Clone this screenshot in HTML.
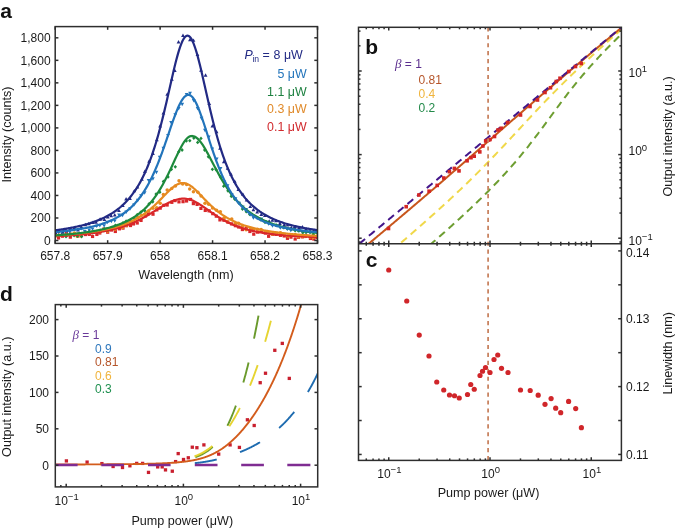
<!DOCTYPE html>
<html><head><meta charset="utf-8"><title>Figure</title>
<style>html,body{margin:0;padding:0;background:#fff;overflow:hidden;}svg{display:block;filter:blur(0.35px);}
text{font-family:"Liberation Sans", sans-serif;}</style></head>
<body><svg width="675" height="528" viewBox="0 0 675 528">
<defs>
<clipPath id="ca"><rect x="55.2" y="26.6" width="262.3" height="216.8"/></clipPath>
<clipPath id="cb"><rect x="358.5" y="27.3" width="262.9" height="216.45"/></clipPath>
<clipPath id="cd"><rect x="55.3" y="304.6" width="262.4" height="182.29999999999995"/></clipPath>
</defs>
<g clip-path="url(#ca)">
<rect x="53.47" y="234.03" width="3.2" height="3.2" fill="#d9272a"/>
<rect x="56.91" y="236.36" width="3.2" height="3.2" fill="#d9272a"/>
<rect x="60.85" y="234.59" width="3.2" height="3.2" fill="#d9272a"/>
<rect x="64.81" y="231.05" width="3.2" height="3.2" fill="#d9272a"/>
<rect x="68.73" y="235.54" width="3.2" height="3.2" fill="#d9272a"/>
<rect x="72.7" y="232.81" width="3.2" height="3.2" fill="#d9272a"/>
<rect x="76.25" y="234.48" width="3.2" height="3.2" fill="#d9272a"/>
<rect x="79.92" y="232.55" width="3.2" height="3.2" fill="#d9272a"/>
<rect x="83.94" y="232.93" width="3.2" height="3.2" fill="#d9272a"/>
<rect x="87.7" y="232.78" width="3.2" height="3.2" fill="#d9272a"/>
<rect x="90.97" y="234.86" width="3.2" height="3.2" fill="#d9272a"/>
<rect x="95.25" y="232.82" width="3.2" height="3.2" fill="#d9272a"/>
<rect x="98.2" y="231.41" width="3.2" height="3.2" fill="#d9272a"/>
<rect x="102.25" y="227.47" width="3.2" height="3.2" fill="#d9272a"/>
<rect x="106.07" y="230.59" width="3.2" height="3.2" fill="#d9272a"/>
<rect x="109.89" y="228.45" width="3.2" height="3.2" fill="#d9272a"/>
<rect x="113.74" y="229.87" width="3.2" height="3.2" fill="#d9272a"/>
<rect x="117.79" y="227.23" width="3.2" height="3.2" fill="#d9272a"/>
<rect x="121.41" y="226.51" width="3.2" height="3.2" fill="#d9272a"/>
<rect x="124.86" y="224.09" width="3.2" height="3.2" fill="#d9272a"/>
<rect x="128.87" y="223.93" width="3.2" height="3.2" fill="#d9272a"/>
<rect x="131.85" y="222.34" width="3.2" height="3.2" fill="#d9272a"/>
<rect x="135.63" y="221.42" width="3.2" height="3.2" fill="#d9272a"/>
<rect x="139.44" y="218.82" width="3.2" height="3.2" fill="#d9272a"/>
<rect x="143.9" y="214.38" width="3.2" height="3.2" fill="#d9272a"/>
<rect x="146.82" y="212.28" width="3.2" height="3.2" fill="#d9272a"/>
<rect x="151.41" y="212.61" width="3.2" height="3.2" fill="#d9272a"/>
<rect x="155.27" y="208.23" width="3.2" height="3.2" fill="#d9272a"/>
<rect x="158.62" y="206.54" width="3.2" height="3.2" fill="#d9272a"/>
<rect x="162.18" y="203.74" width="3.2" height="3.2" fill="#d9272a"/>
<rect x="165.56" y="203.41" width="3.2" height="3.2" fill="#d9272a"/>
<rect x="170.22" y="200.73" width="3.2" height="3.2" fill="#d9272a"/>
<rect x="173.47" y="198.99" width="3.2" height="3.2" fill="#d9272a"/>
<rect x="177.35" y="200.27" width="3.2" height="3.2" fill="#d9272a"/>
<rect x="181.44" y="200.06" width="3.2" height="3.2" fill="#d9272a"/>
<rect x="184.97" y="199.4" width="3.2" height="3.2" fill="#d9272a"/>
<rect x="188.97" y="197.84" width="3.2" height="3.2" fill="#d9272a"/>
<rect x="191.76" y="202" width="3.2" height="3.2" fill="#d9272a"/>
<rect x="195.51" y="202.82" width="3.2" height="3.2" fill="#d9272a"/>
<rect x="199.3" y="206.8" width="3.2" height="3.2" fill="#d9272a"/>
<rect x="203.66" y="208.84" width="3.2" height="3.2" fill="#d9272a"/>
<rect x="207.47" y="209.23" width="3.2" height="3.2" fill="#d9272a"/>
<rect x="211.16" y="212.06" width="3.2" height="3.2" fill="#d9272a"/>
<rect x="214.68" y="214.55" width="3.2" height="3.2" fill="#d9272a"/>
<rect x="218.34" y="218.29" width="3.2" height="3.2" fill="#d9272a"/>
<rect x="222.32" y="218.64" width="3.2" height="3.2" fill="#d9272a"/>
<rect x="226.24" y="220.51" width="3.2" height="3.2" fill="#d9272a"/>
<rect x="229.95" y="222.27" width="3.2" height="3.2" fill="#d9272a"/>
<rect x="233.77" y="224.11" width="3.2" height="3.2" fill="#d9272a"/>
<rect x="237.15" y="225.4" width="3.2" height="3.2" fill="#d9272a"/>
<rect x="240.78" y="227.94" width="3.2" height="3.2" fill="#d9272a"/>
<rect x="244.64" y="226.97" width="3.2" height="3.2" fill="#d9272a"/>
<rect x="248.29" y="229.89" width="3.2" height="3.2" fill="#d9272a"/>
<rect x="252.15" y="232.57" width="3.2" height="3.2" fill="#d9272a"/>
<rect x="255.98" y="230.51" width="3.2" height="3.2" fill="#d9272a"/>
<rect x="260.03" y="229.7" width="3.2" height="3.2" fill="#d9272a"/>
<rect x="263.75" y="231.45" width="3.2" height="3.2" fill="#d9272a"/>
<rect x="267.03" y="234.71" width="3.2" height="3.2" fill="#d9272a"/>
<rect x="271.23" y="232.57" width="3.2" height="3.2" fill="#d9272a"/>
<rect x="274.6" y="232.77" width="3.2" height="3.2" fill="#d9272a"/>
<rect x="278.85" y="233.74" width="3.2" height="3.2" fill="#d9272a"/>
<rect x="282.62" y="234.38" width="3.2" height="3.2" fill="#d9272a"/>
<rect x="285.86" y="236.73" width="3.2" height="3.2" fill="#d9272a"/>
<rect x="289.39" y="235.54" width="3.2" height="3.2" fill="#d9272a"/>
<rect x="293.58" y="237.44" width="3.2" height="3.2" fill="#d9272a"/>
<rect x="297.01" y="235.72" width="3.2" height="3.2" fill="#d9272a"/>
<rect x="301" y="235.27" width="3.2" height="3.2" fill="#d9272a"/>
<rect x="304.2" y="233.93" width="3.2" height="3.2" fill="#d9272a"/>
<rect x="308.83" y="236.88" width="3.2" height="3.2" fill="#d9272a"/>
<rect x="312.23" y="237.46" width="3.2" height="3.2" fill="#d9272a"/>
<rect x="315.57" y="236" width="3.2" height="3.2" fill="#d9272a"/>
<circle cx="55.22" cy="234.76" r="1.75" fill="#e68a20"/>
<circle cx="59.06" cy="234.97" r="1.75" fill="#e68a20"/>
<circle cx="63.06" cy="235.1" r="1.75" fill="#e68a20"/>
<circle cx="66.29" cy="235.48" r="1.75" fill="#e68a20"/>
<circle cx="70.51" cy="233.75" r="1.75" fill="#e68a20"/>
<circle cx="74.36" cy="232.88" r="1.75" fill="#e68a20"/>
<circle cx="77.19" cy="236.26" r="1.75" fill="#e68a20"/>
<circle cx="80.98" cy="235.94" r="1.75" fill="#e68a20"/>
<circle cx="85.2" cy="232.72" r="1.75" fill="#e68a20"/>
<circle cx="89.2" cy="232.75" r="1.75" fill="#e68a20"/>
<circle cx="92.3" cy="232.47" r="1.75" fill="#e68a20"/>
<circle cx="96.89" cy="231.6" r="1.75" fill="#e68a20"/>
<circle cx="100.17" cy="231.63" r="1.75" fill="#e68a20"/>
<circle cx="103.76" cy="229.83" r="1.75" fill="#e68a20"/>
<circle cx="107.52" cy="231.29" r="1.75" fill="#e68a20"/>
<circle cx="111.03" cy="227.88" r="1.75" fill="#e68a20"/>
<circle cx="115.03" cy="229.16" r="1.75" fill="#e68a20"/>
<circle cx="118.77" cy="226.28" r="1.75" fill="#e68a20"/>
<circle cx="122.53" cy="227.47" r="1.75" fill="#e68a20"/>
<circle cx="126.33" cy="225.49" r="1.75" fill="#e68a20"/>
<circle cx="130.35" cy="222.16" r="1.75" fill="#e68a20"/>
<circle cx="133.85" cy="220.88" r="1.75" fill="#e68a20"/>
<circle cx="137.83" cy="217.45" r="1.75" fill="#e68a20"/>
<circle cx="141.31" cy="215.39" r="1.75" fill="#e68a20"/>
<circle cx="145.01" cy="214.47" r="1.75" fill="#e68a20"/>
<circle cx="148.64" cy="211.09" r="1.75" fill="#e68a20"/>
<circle cx="152.94" cy="208.36" r="1.75" fill="#e68a20"/>
<circle cx="156.67" cy="207.71" r="1.75" fill="#e68a20"/>
<circle cx="160.18" cy="203.31" r="1.75" fill="#e68a20"/>
<circle cx="163.37" cy="194.51" r="1.75" fill="#e68a20"/>
<circle cx="167.16" cy="189.89" r="1.75" fill="#e68a20"/>
<circle cx="171.74" cy="188.52" r="1.75" fill="#e68a20"/>
<circle cx="175.45" cy="186.1" r="1.75" fill="#e68a20"/>
<circle cx="179.03" cy="180.64" r="1.75" fill="#e68a20"/>
<circle cx="182.68" cy="183.98" r="1.75" fill="#e68a20"/>
<circle cx="186.62" cy="184.57" r="1.75" fill="#e68a20"/>
<circle cx="189.7" cy="189.05" r="1.75" fill="#e68a20"/>
<circle cx="193.41" cy="191.86" r="1.75" fill="#e68a20"/>
<circle cx="197.92" cy="192.31" r="1.75" fill="#e68a20"/>
<circle cx="201.09" cy="195.89" r="1.75" fill="#e68a20"/>
<circle cx="204.98" cy="203.35" r="1.75" fill="#e68a20"/>
<circle cx="208.68" cy="204.27" r="1.75" fill="#e68a20"/>
<circle cx="212.58" cy="208.02" r="1.75" fill="#e68a20"/>
<circle cx="216.57" cy="210.37" r="1.75" fill="#e68a20"/>
<circle cx="220.33" cy="211.86" r="1.75" fill="#e68a20"/>
<circle cx="223.81" cy="218.18" r="1.75" fill="#e68a20"/>
<circle cx="227.22" cy="221.62" r="1.75" fill="#e68a20"/>
<circle cx="231.73" cy="218.97" r="1.75" fill="#e68a20"/>
<circle cx="235.28" cy="223.39" r="1.75" fill="#e68a20"/>
<circle cx="238.51" cy="223.26" r="1.75" fill="#e68a20"/>
<circle cx="242.29" cy="226.48" r="1.75" fill="#e68a20"/>
<circle cx="246.1" cy="229.86" r="1.75" fill="#e68a20"/>
<circle cx="250.41" cy="229.21" r="1.75" fill="#e68a20"/>
<circle cx="253.52" cy="229.67" r="1.75" fill="#e68a20"/>
<circle cx="257.43" cy="229.27" r="1.75" fill="#e68a20"/>
<circle cx="261.11" cy="229.56" r="1.75" fill="#e68a20"/>
<circle cx="265.53" cy="231.95" r="1.75" fill="#e68a20"/>
<circle cx="268.76" cy="232.18" r="1.75" fill="#e68a20"/>
<circle cx="272.59" cy="234.15" r="1.75" fill="#e68a20"/>
<circle cx="276.64" cy="233.3" r="1.75" fill="#e68a20"/>
<circle cx="280.49" cy="232.84" r="1.75" fill="#e68a20"/>
<circle cx="283.51" cy="234.04" r="1.75" fill="#e68a20"/>
<circle cx="287.98" cy="236.17" r="1.75" fill="#e68a20"/>
<circle cx="290.96" cy="235.4" r="1.75" fill="#e68a20"/>
<circle cx="295.22" cy="234.45" r="1.75" fill="#e68a20"/>
<circle cx="298.52" cy="237.12" r="1.75" fill="#e68a20"/>
<circle cx="302.43" cy="236.41" r="1.75" fill="#e68a20"/>
<circle cx="305.85" cy="236.53" r="1.75" fill="#e68a20"/>
<circle cx="309.86" cy="237.04" r="1.75" fill="#e68a20"/>
<circle cx="313.26" cy="237.53" r="1.75" fill="#e68a20"/>
<circle cx="317.49" cy="235.78" r="1.75" fill="#e68a20"/>
<path d="M55.66 232.82 L57.37 234.72 L55.66 236.62 L53.95 234.72 Z" fill="#1d8a3c"/>
<path d="M58.57 233.31 L60.28 235.21 L58.57 237.11 L56.86 235.21 Z" fill="#1d8a3c"/>
<path d="M62.31 232.14 L64.02 234.04 L62.31 235.94 L60.6 234.04 Z" fill="#1d8a3c"/>
<path d="M66.04 234.73 L67.75 236.63 L66.04 238.53 L64.33 236.63 Z" fill="#1d8a3c"/>
<path d="M70.46 233.3 L72.17 235.2 L70.46 237.1 L68.75 235.2 Z" fill="#1d8a3c"/>
<path d="M74.11 233.63 L75.82 235.53 L74.11 237.43 L72.4 235.53 Z" fill="#1d8a3c"/>
<path d="M77.45 234.18 L79.16 236.08 L77.45 237.98 L75.74 236.08 Z" fill="#1d8a3c"/>
<path d="M81.6 234.68 L83.31 236.58 L81.6 238.48 L79.89 236.58 Z" fill="#1d8a3c"/>
<path d="M85.17 231.56 L86.88 233.46 L85.17 235.36 L83.46 233.46 Z" fill="#1d8a3c"/>
<path d="M89.1 229.58 L90.81 231.48 L89.1 233.38 L87.39 231.48 Z" fill="#1d8a3c"/>
<path d="M92.82 230.61 L94.53 232.51 L92.82 234.41 L91.11 232.51 Z" fill="#1d8a3c"/>
<path d="M96.81 230.13 L98.52 232.03 L96.81 233.93 L95.1 232.03 Z" fill="#1d8a3c"/>
<path d="M100.6 229.31 L102.31 231.21 L100.6 233.11 L98.89 231.21 Z" fill="#1d8a3c"/>
<path d="M104.13 226.93 L105.84 228.83 L104.13 230.73 L102.42 228.83 Z" fill="#1d8a3c"/>
<path d="M107.81 228.19 L109.52 230.09 L107.81 231.99 L106.1 230.09 Z" fill="#1d8a3c"/>
<path d="M111.08 226.02 L112.79 227.92 L111.08 229.82 L109.37 227.92 Z" fill="#1d8a3c"/>
<path d="M115.41 223.39 L117.12 225.29 L115.41 227.19 L113.7 225.29 Z" fill="#1d8a3c"/>
<path d="M118.76 224.7 L120.47 226.6 L118.76 228.5 L117.05 226.6 Z" fill="#1d8a3c"/>
<path d="M123.02 220.91 L124.73 222.81 L123.02 224.71 L121.31 222.81 Z" fill="#1d8a3c"/>
<path d="M126.14 219.26 L127.85 221.16 L126.14 223.06 L124.43 221.16 Z" fill="#1d8a3c"/>
<path d="M129.98 219.31 L131.69 221.21 L129.98 223.11 L128.27 221.21 Z" fill="#1d8a3c"/>
<path d="M134.16 216.04 L135.87 217.94 L134.16 219.84 L132.45 217.94 Z" fill="#1d8a3c"/>
<path d="M137.25 212.75 L138.96 214.65 L137.25 216.55 L135.54 214.65 Z" fill="#1d8a3c"/>
<path d="M141 210.22 L142.71 212.12 L141 214.02 L139.29 212.12 Z" fill="#1d8a3c"/>
<path d="M144.82 208.83 L146.53 210.73 L144.82 212.63 L143.11 210.73 Z" fill="#1d8a3c"/>
<path d="M149.12 201.96 L150.83 203.86 L149.12 205.76 L147.41 203.86 Z" fill="#1d8a3c"/>
<path d="M152.72 199.91 L154.43 201.81 L152.72 203.71 L151.01 201.81 Z" fill="#1d8a3c"/>
<path d="M156.07 192.16 L157.78 194.06 L156.07 195.96 L154.36 194.06 Z" fill="#1d8a3c"/>
<path d="M159.82 190.28 L161.53 192.18 L159.82 194.08 L158.11 192.18 Z" fill="#1d8a3c"/>
<path d="M163.4 179.51 L165.11 181.41 L163.4 183.31 L161.69 181.41 Z" fill="#1d8a3c"/>
<path d="M168.06 175.07 L169.77 176.97 L168.06 178.87 L166.35 176.97 Z" fill="#1d8a3c"/>
<path d="M171.44 167.42 L173.15 169.32 L171.44 171.22 L169.73 169.32 Z" fill="#1d8a3c"/>
<path d="M175.3 164.94 L177.01 166.84 L175.3 168.74 L173.59 166.84 Z" fill="#1d8a3c"/>
<path d="M178.84 149.75 L180.55 151.65 L178.84 153.55 L177.13 151.65 Z" fill="#1d8a3c"/>
<path d="M182.11 148.08 L183.82 149.98 L182.11 151.88 L180.4 149.98 Z" fill="#1d8a3c"/>
<path d="M186.34 139.07 L188.05 140.97 L186.34 142.87 L184.63 140.97 Z" fill="#1d8a3c"/>
<path d="M189.79 138.82 L191.5 140.72 L189.79 142.62 L188.08 140.72 Z" fill="#1d8a3c"/>
<path d="M193.84 136.1 L195.55 138 L193.84 139.9 L192.13 138 Z" fill="#1d8a3c"/>
<path d="M197.66 140.52 L199.37 142.42 L197.66 144.32 L195.95 142.42 Z" fill="#1d8a3c"/>
<path d="M200.97 136.48 L202.68 138.38 L200.97 140.28 L199.26 138.38 Z" fill="#1d8a3c"/>
<path d="M204.64 148.16 L206.35 150.06 L204.64 151.96 L202.93 150.06 Z" fill="#1d8a3c"/>
<path d="M208.41 154.95 L210.12 156.85 L208.41 158.75 L206.7 156.85 Z" fill="#1d8a3c"/>
<path d="M212.4 167.39 L214.11 169.29 L212.4 171.19 L210.69 169.29 Z" fill="#1d8a3c"/>
<path d="M215.96 167.7 L217.67 169.6 L215.96 171.5 L214.25 169.6 Z" fill="#1d8a3c"/>
<path d="M220.5 175.08 L222.21 176.98 L220.5 178.88 L218.79 176.98 Z" fill="#1d8a3c"/>
<path d="M223.67 184.31 L225.38 186.21 L223.67 188.11 L221.96 186.21 Z" fill="#1d8a3c"/>
<path d="M227.93 188.9 L229.64 190.8 L227.93 192.7 L226.22 190.8 Z" fill="#1d8a3c"/>
<path d="M231.3 194.37 L233.01 196.27 L231.3 198.17 L229.59 196.27 Z" fill="#1d8a3c"/>
<path d="M234.64 197.1 L236.35 199 L234.64 200.9 L232.93 199 Z" fill="#1d8a3c"/>
<path d="M238.81 200.88 L240.52 202.78 L238.81 204.68 L237.1 202.78 Z" fill="#1d8a3c"/>
<path d="M242.48 207.09 L244.19 208.99 L242.48 210.89 L240.77 208.99 Z" fill="#1d8a3c"/>
<path d="M246.27 209.82 L247.98 211.72 L246.27 213.62 L244.56 211.72 Z" fill="#1d8a3c"/>
<path d="M249.73 212.52 L251.44 214.42 L249.73 216.32 L248.02 214.42 Z" fill="#1d8a3c"/>
<path d="M253.67 214 L255.38 215.9 L253.67 217.8 L251.96 215.9 Z" fill="#1d8a3c"/>
<path d="M257.64 215.73 L259.35 217.63 L257.64 219.53 L255.93 217.63 Z" fill="#1d8a3c"/>
<path d="M261 218.01 L262.71 219.91 L261 221.81 L259.29 219.91 Z" fill="#1d8a3c"/>
<path d="M265 220.39 L266.71 222.29 L265 224.19 L263.29 222.29 Z" fill="#1d8a3c"/>
<path d="M268.46 220.54 L270.17 222.44 L268.46 224.34 L266.75 222.44 Z" fill="#1d8a3c"/>
<path d="M272.06 222.64 L273.77 224.54 L272.06 226.44 L270.35 224.54 Z" fill="#1d8a3c"/>
<path d="M276.27 223.37 L277.98 225.27 L276.27 227.17 L274.56 225.27 Z" fill="#1d8a3c"/>
<path d="M279.98 224.96 L281.69 226.86 L279.98 228.76 L278.27 226.86 Z" fill="#1d8a3c"/>
<path d="M283.33 225.7 L285.04 227.6 L283.33 229.5 L281.62 227.6 Z" fill="#1d8a3c"/>
<path d="M287.05 226.7 L288.76 228.6 L287.05 230.5 L285.34 228.6 Z" fill="#1d8a3c"/>
<path d="M290.86 227.79 L292.57 229.69 L290.86 231.59 L289.15 229.69 Z" fill="#1d8a3c"/>
<path d="M295.14 228.69 L296.85 230.59 L295.14 232.49 L293.43 230.59 Z" fill="#1d8a3c"/>
<path d="M298.32 228.89 L300.03 230.79 L298.32 232.69 L296.61 230.79 Z" fill="#1d8a3c"/>
<path d="M302.8 230.82 L304.51 232.72 L302.8 234.62 L301.09 232.72 Z" fill="#1d8a3c"/>
<path d="M306.06 230.5 L307.77 232.4 L306.06 234.3 L304.35 232.4 Z" fill="#1d8a3c"/>
<path d="M310.32 230.09 L312.03 231.99 L310.32 233.89 L308.61 231.99 Z" fill="#1d8a3c"/>
<path d="M313.35 232.35 L315.06 234.25 L313.35 236.15 L311.64 234.25 Z" fill="#1d8a3c"/>
<path d="M317.59 234.83 L319.3 236.73 L317.59 238.63 L315.88 236.73 Z" fill="#1d8a3c"/>
<path d="M54.79 234.57 L52.89 231.15 L56.69 231.15 Z" fill="#2274bb"/>
<path d="M58.5 234.01 L56.6 230.59 L60.4 230.59 Z" fill="#2274bb"/>
<path d="M62.39 236.28 L60.49 232.86 L64.29 232.86 Z" fill="#2274bb"/>
<path d="M66.75 233.44 L64.85 230.02 L68.65 230.02 Z" fill="#2274bb"/>
<path d="M69.72 233.81 L67.82 230.39 L71.62 230.39 Z" fill="#2274bb"/>
<path d="M74.38 231.32 L72.48 227.9 L76.28 227.9 Z" fill="#2274bb"/>
<path d="M78.03 231.35 L76.13 227.93 L79.93 227.93 Z" fill="#2274bb"/>
<path d="M81.26 230.47 L79.36 227.05 L83.16 227.05 Z" fill="#2274bb"/>
<path d="M84.85 233.5 L82.95 230.08 L86.75 230.08 Z" fill="#2274bb"/>
<path d="M89.26 231.91 L87.36 228.49 L91.16 228.49 Z" fill="#2274bb"/>
<path d="M92.53 230.94 L90.63 227.52 L94.43 227.52 Z" fill="#2274bb"/>
<path d="M96.7 228.11 L94.8 224.69 L98.6 224.69 Z" fill="#2274bb"/>
<path d="M99.84 227.44 L97.94 224.02 L101.74 224.02 Z" fill="#2274bb"/>
<path d="M104.12 227.59 L102.22 224.17 L106.02 224.17 Z" fill="#2274bb"/>
<path d="M107.31 224.21 L105.41 220.79 L109.21 220.79 Z" fill="#2274bb"/>
<path d="M111.37 223.25 L109.47 219.83 L113.27 219.83 Z" fill="#2274bb"/>
<path d="M114.75 222.82 L112.85 219.4 L116.65 219.4 Z" fill="#2274bb"/>
<path d="M119.04 216.84 L117.14 213.42 L120.94 213.42 Z" fill="#2274bb"/>
<path d="M122.6 217.16 L120.7 213.74 L124.5 213.74 Z" fill="#2274bb"/>
<path d="M126.23 213.97 L124.33 210.55 L128.13 210.55 Z" fill="#2274bb"/>
<path d="M130.04 210.78 L128.14 207.36 L131.94 207.36 Z" fill="#2274bb"/>
<path d="M133.96 206.84 L132.06 203.42 L135.86 203.42 Z" fill="#2274bb"/>
<path d="M137.79 202.27 L135.89 198.85 L139.69 198.85 Z" fill="#2274bb"/>
<path d="M141.04 197.66 L139.14 194.24 L142.94 194.24 Z" fill="#2274bb"/>
<path d="M144.64 194.79 L142.74 191.37 L146.54 191.37 Z" fill="#2274bb"/>
<path d="M148.6 182.35 L146.7 178.93 L150.5 178.93 Z" fill="#2274bb"/>
<path d="M152.91 180.69 L151.01 177.27 L154.81 177.27 Z" fill="#2274bb"/>
<path d="M156.41 174.19 L154.51 170.77 L158.31 170.77 Z" fill="#2274bb"/>
<path d="M159.7 159.24 L157.8 155.82 L161.6 155.82 Z" fill="#2274bb"/>
<path d="M163.39 150.05 L161.49 146.63 L165.29 146.63 Z" fill="#2274bb"/>
<path d="M168.01 137.43 L166.11 134.01 L169.91 134.01 Z" fill="#2274bb"/>
<path d="M171.08 124.34 L169.18 120.92 L172.98 120.92 Z" fill="#2274bb"/>
<path d="M175.25 116.69 L173.35 113.27 L177.15 113.27 Z" fill="#2274bb"/>
<path d="M178.7 110.39 L176.8 106.97 L180.6 106.97 Z" fill="#2274bb"/>
<path d="M182.21 106.28 L180.31 102.86 L184.11 102.86 Z" fill="#2274bb"/>
<path d="M186.66 96.43 L184.76 93.01 L188.56 93.01 Z" fill="#2274bb"/>
<path d="M190.06 95.13 L188.16 91.71 L191.96 91.71 Z" fill="#2274bb"/>
<path d="M193.69 102.41 L191.79 98.99 L195.59 98.99 Z" fill="#2274bb"/>
<path d="M197.64 110.46 L195.74 107.04 L199.54 107.04 Z" fill="#2274bb"/>
<path d="M201.49 120.25 L199.59 116.83 L203.39 116.83 Z" fill="#2274bb"/>
<path d="M204.94 132.26 L203.04 128.84 L206.84 128.84 Z" fill="#2274bb"/>
<path d="M208.76 138.87 L206.86 135.45 L210.66 135.45 Z" fill="#2274bb"/>
<path d="M212.25 150.96 L210.35 147.54 L214.15 147.54 Z" fill="#2274bb"/>
<path d="M216.7 160.92 L214.8 157.5 L218.6 157.5 Z" fill="#2274bb"/>
<path d="M220.51 170.52 L218.61 167.1 L222.41 167.1 Z" fill="#2274bb"/>
<path d="M224.27 183.92 L222.37 180.5 L226.17 180.5 Z" fill="#2274bb"/>
<path d="M227.55 187.55 L225.65 184.13 L229.45 184.13 Z" fill="#2274bb"/>
<path d="M231.81 196.56 L229.91 193.14 L233.71 193.14 Z" fill="#2274bb"/>
<path d="M235.5 200.68 L233.6 197.26 L237.4 197.26 Z" fill="#2274bb"/>
<path d="M239.03 205.22 L237.13 201.8 L240.93 201.8 Z" fill="#2274bb"/>
<path d="M242.7 208.95 L240.8 205.53 L244.6 205.53 Z" fill="#2274bb"/>
<path d="M246.08 211.49 L244.18 208.07 L247.98 208.07 Z" fill="#2274bb"/>
<path d="M250.29 216.61 L248.39 213.19 L252.19 213.19 Z" fill="#2274bb"/>
<path d="M253.4 219.86 L251.5 216.44 L255.3 216.44 Z" fill="#2274bb"/>
<path d="M257.12 220.23 L255.22 216.81 L259.02 216.81 Z" fill="#2274bb"/>
<path d="M261.49 220.88 L259.59 217.46 L263.39 217.46 Z" fill="#2274bb"/>
<path d="M265.42 223.63 L263.52 220.21 L267.32 220.21 Z" fill="#2274bb"/>
<path d="M268.6 225.87 L266.7 222.45 L270.5 222.45 Z" fill="#2274bb"/>
<path d="M272.58 227.65 L270.68 224.23 L274.48 224.23 Z" fill="#2274bb"/>
<path d="M276.07 227.36 L274.17 223.94 L277.97 223.94 Z" fill="#2274bb"/>
<path d="M280.34 229.78 L278.44 226.36 L282.24 226.36 Z" fill="#2274bb"/>
<path d="M284.08 229.62 L282.18 226.2 L285.98 226.2 Z" fill="#2274bb"/>
<path d="M287.55 230.88 L285.65 227.46 L289.45 227.46 Z" fill="#2274bb"/>
<path d="M290.82 232.14 L288.92 228.72 L292.72 228.72 Z" fill="#2274bb"/>
<path d="M294.98 230.38 L293.08 226.96 L296.88 226.96 Z" fill="#2274bb"/>
<path d="M299.24 232.65 L297.34 229.23 L301.14 229.23 Z" fill="#2274bb"/>
<path d="M302.02 233.07 L300.12 229.65 L303.92 229.65 Z" fill="#2274bb"/>
<path d="M305.81 233.66 L303.91 230.24 L307.71 230.24 Z" fill="#2274bb"/>
<path d="M309.82 234.5 L307.92 231.08 L311.72 231.08 Z" fill="#2274bb"/>
<path d="M313.67 232.56 L311.77 229.14 L315.57 229.14 Z" fill="#2274bb"/>
<path d="M317.43 234.58 L315.53 231.16 L319.33 231.16 Z" fill="#2274bb"/>
<path d="M55.61 230.74 L53.71 234.16 L57.51 234.16 Z" fill="#222a84"/>
<path d="M58.58 229.41 L56.68 232.83 L60.48 232.83 Z" fill="#222a84"/>
<path d="M62.7 230.1 L60.8 233.52 L64.6 233.52 Z" fill="#222a84"/>
<path d="M66.22 228.57 L64.32 231.99 L68.12 231.99 Z" fill="#222a84"/>
<path d="M70.33 226.66 L68.43 230.08 L72.23 230.08 Z" fill="#222a84"/>
<path d="M73.9 226.94 L72 230.36 L75.8 230.36 Z" fill="#222a84"/>
<path d="M78 228.07 L76.1 231.49 L79.9 231.49 Z" fill="#222a84"/>
<path d="M81.45 225.53 L79.55 228.95 L83.35 228.95 Z" fill="#222a84"/>
<path d="M85.36 222.71 L83.46 226.13 L87.26 226.13 Z" fill="#222a84"/>
<path d="M88.83 221.83 L86.93 225.25 L90.73 225.25 Z" fill="#222a84"/>
<path d="M92.97 220.55 L91.07 223.97 L94.87 223.97 Z" fill="#222a84"/>
<path d="M96.07 220.42 L94.17 223.84 L97.97 223.84 Z" fill="#222a84"/>
<path d="M100.08 217.37 L98.18 220.79 L101.98 220.79 Z" fill="#222a84"/>
<path d="M104.34 217.56 L102.44 220.98 L106.24 220.98 Z" fill="#222a84"/>
<path d="M107.73 215.03 L105.83 218.45 L109.63 218.45 Z" fill="#222a84"/>
<path d="M111.19 213.83 L109.29 217.25 L113.09 217.25 Z" fill="#222a84"/>
<path d="M114.76 212.96 L112.86 216.38 L116.66 216.38 Z" fill="#222a84"/>
<path d="M118.92 208.67 L117.02 212.09 L120.82 212.09 Z" fill="#222a84"/>
<path d="M122.79 203.66 L120.89 207.08 L124.69 207.08 Z" fill="#222a84"/>
<path d="M126.08 197.09 L124.18 200.51 L127.98 200.51 Z" fill="#222a84"/>
<path d="M129.96 196.51 L128.06 199.93 L131.86 199.93 Z" fill="#222a84"/>
<path d="M134.33 188.94 L132.43 192.36 L136.23 192.36 Z" fill="#222a84"/>
<path d="M137.42 185.16 L135.52 188.58 L139.32 188.58 Z" fill="#222a84"/>
<path d="M141.86 177.35 L139.96 180.77 L143.76 180.77 Z" fill="#222a84"/>
<path d="M144.83 169.56 L142.93 172.98 L146.73 172.98 Z" fill="#222a84"/>
<path d="M149.12 159.21 L147.22 162.63 L151.02 162.63 Z" fill="#222a84"/>
<path d="M152.94 151.47 L151.04 154.89 L154.84 154.89 Z" fill="#222a84"/>
<path d="M156.83 137.81 L154.93 141.23 L158.73 141.23 Z" fill="#222a84"/>
<path d="M160.1 124.1 L158.2 127.52 L162 127.52 Z" fill="#222a84"/>
<path d="M163.41 111.17 L161.51 114.59 L165.31 114.59 Z" fill="#222a84"/>
<path d="M167.26 92.24 L165.36 95.66 L169.16 95.66 Z" fill="#222a84"/>
<path d="M171.85 77.41 L169.95 80.83 L173.75 80.83 Z" fill="#222a84"/>
<path d="M174.75 68.51 L172.85 71.93 L176.65 71.93 Z" fill="#222a84"/>
<path d="M178.53 40.07 L176.63 43.49 L180.43 43.49 Z" fill="#222a84"/>
<path d="M182.98 33.62 L181.08 37.04 L184.88 37.04 Z" fill="#222a84"/>
<path d="M186.38 19.09 L184.48 22.51 L188.28 22.51 Z" fill="#222a84"/>
<path d="M189.99 37.81 L188.09 41.23 L191.89 41.23 Z" fill="#222a84"/>
<path d="M193.48 38.38 L191.58 41.8 L195.38 41.8 Z" fill="#222a84"/>
<path d="M197.44 52.68 L195.54 56.1 L199.34 56.1 Z" fill="#222a84"/>
<path d="M201.03 68.34 L199.13 71.76 L202.93 71.76 Z" fill="#222a84"/>
<path d="M205.57 73.23 L203.67 76.65 L207.47 76.65 Z" fill="#222a84"/>
<path d="M209.28 101.67 L207.38 105.09 L211.18 105.09 Z" fill="#222a84"/>
<path d="M212.39 123.98 L210.49 127.4 L214.29 127.4 Z" fill="#222a84"/>
<path d="M216.58 129.8 L214.68 133.22 L218.48 133.22 Z" fill="#222a84"/>
<path d="M220.04 146.33 L218.14 149.75 L221.94 149.75 Z" fill="#222a84"/>
<path d="M223.86 159.71 L221.96 163.13 L225.76 163.13 Z" fill="#222a84"/>
<path d="M227.66 166.45 L225.76 169.87 L229.56 169.87 Z" fill="#222a84"/>
<path d="M231 172.37 L229.1 175.79 L232.9 175.79 Z" fill="#222a84"/>
<path d="M234.73 179.4 L232.83 182.82 L236.63 182.82 Z" fill="#222a84"/>
<path d="M238.36 187.66 L236.46 191.08 L240.26 191.08 Z" fill="#222a84"/>
<path d="M242.93 192.41 L241.03 195.83 L244.83 195.83 Z" fill="#222a84"/>
<path d="M246.67 197.98 L244.77 201.4 L248.57 201.4 Z" fill="#222a84"/>
<path d="M250.24 204.65 L248.34 208.07 L252.14 208.07 Z" fill="#222a84"/>
<path d="M253.39 207.72 L251.49 211.14 L255.29 211.14 Z" fill="#222a84"/>
<path d="M257.19 210 L255.29 213.42 L259.09 213.42 Z" fill="#222a84"/>
<path d="M261.3 212.56 L259.4 215.98 L263.2 215.98 Z" fill="#222a84"/>
<path d="M264.9 213.47 L263 216.89 L266.8 216.89 Z" fill="#222a84"/>
<path d="M269.22 219.22 L267.32 222.64 L271.12 222.64 Z" fill="#222a84"/>
<path d="M272.32 218.38 L270.42 221.8 L274.22 221.8 Z" fill="#222a84"/>
<path d="M275.9 218.82 L274 222.24 L277.8 222.24 Z" fill="#222a84"/>
<path d="M279.87 221.52 L277.97 224.94 L281.77 224.94 Z" fill="#222a84"/>
<path d="M284.24 222.86 L282.34 226.28 L286.14 226.28 Z" fill="#222a84"/>
<path d="M287.55 223.18 L285.65 226.6 L289.45 226.6 Z" fill="#222a84"/>
<path d="M291.3 225.44 L289.4 228.86 L293.2 228.86 Z" fill="#222a84"/>
<path d="M294.59 224.98 L292.69 228.4 L296.49 228.4 Z" fill="#222a84"/>
<path d="M299.04 225.54 L297.14 228.96 L300.94 228.96 Z" fill="#222a84"/>
<path d="M302.4 225.08 L300.5 228.5 L304.3 228.5 Z" fill="#222a84"/>
<path d="M305.97 227.06 L304.07 230.48 L307.87 230.48 Z" fill="#222a84"/>
<path d="M309.94 229.3 L308.04 232.72 L311.84 232.72 Z" fill="#222a84"/>
<path d="M313.61 229.46 L311.71 232.88 L315.51 232.88 Z" fill="#222a84"/>
<path d="M317.4 227.87 L315.5 231.29 L319.3 231.29 Z" fill="#222a84"/>
<path d="M49.95 236.49 L50.86 236.45 L51.77 236.41 L52.68 236.37 L53.59 236.33 L54.5 236.28 L55.41 236.24 L56.32 236.19 L57.23 236.14 L58.14 236.09 L59.05 236.04 L59.96 235.99 L60.87 235.94 L61.77 235.89 L62.68 235.83 L63.59 235.78 L64.5 235.72 L65.41 235.66 L66.32 235.6 L67.23 235.54 L68.14 235.48 L69.05 235.42 L69.96 235.35 L70.87 235.28 L71.78 235.22 L72.69 235.15 L73.6 235.07 L74.51 235 L75.41 234.93 L76.32 234.85 L77.23 234.77 L78.14 234.69 L79.05 234.6 L79.96 234.52 L80.87 234.43 L81.78 234.34 L82.69 234.25 L83.6 234.16 L84.51 234.06 L85.42 233.96 L86.33 233.86 L87.24 233.76 L88.14 233.65 L89.05 233.54 L89.96 233.43 L90.87 233.31 L91.78 233.19 L92.69 233.07 L93.6 232.95 L94.51 232.82 L95.42 232.69 L96.33 232.55 L97.24 232.41 L98.15 232.27 L99.06 232.13 L99.97 231.98 L100.88 231.82 L101.78 231.66 L102.69 231.5 L103.6 231.34 L104.51 231.16 L105.42 230.99 L106.33 230.81 L107.24 230.62 L108.15 230.43 L109.06 230.24 L109.97 230.04 L110.88 229.83 L111.79 229.62 L112.7 229.4 L113.61 229.18 L114.51 228.95 L115.42 228.71 L116.33 228.47 L117.24 228.22 L118.15 227.97 L119.06 227.7 L119.97 227.43 L120.88 227.16 L121.79 226.87 L122.7 226.58 L123.61 226.28 L124.52 225.98 L125.43 225.66 L126.34 225.34 L127.25 225.01 L128.15 224.67 L129.06 224.32 L129.97 223.97 L130.88 223.6 L131.79 223.23 L132.7 222.84 L133.61 222.45 L134.52 222.05 L135.43 221.64 L136.34 221.22 L137.25 220.79 L138.16 220.35 L139.07 219.91 L139.98 219.45 L140.88 218.99 L141.79 218.51 L142.7 218.03 L143.61 217.54 L144.52 217.04 L145.43 216.53 L146.34 216.01 L147.25 215.49 L148.16 214.96 L149.07 214.42 L149.98 213.88 L150.89 213.33 L151.8 212.78 L152.71 212.22 L153.61 211.66 L154.52 211.1 L155.43 210.53 L156.34 209.96 L157.25 209.4 L158.16 208.83 L159.07 208.27 L159.98 207.7 L160.89 207.15 L161.8 206.6 L162.71 206.05 L163.62 205.52 L164.53 204.99 L165.44 204.47 L166.35 203.97 L167.25 203.48 L168.16 203.01 L169.07 202.55 L169.98 202.12 L170.89 201.7 L171.8 201.3 L172.71 200.93 L173.62 200.58 L174.53 200.26 L175.44 199.96 L176.35 199.69 L177.26 199.45 L178.17 199.24 L179.08 199.06 L179.98 198.91 L180.89 198.79 L181.8 198.71 L182.71 198.66 L183.62 198.64 L184.53 198.66 L185.44 198.72 L186.35 198.82 L187.26 198.97 L188.17 199.15 L189.08 199.37 L189.99 199.63 L190.9 199.93 L191.81 200.27 L192.72 200.63 L193.62 201.03 L194.53 201.46 L195.44 201.92 L196.35 202.41 L197.26 202.91 L198.17 203.44 L199.08 203.99 L199.99 204.56 L200.9 205.14 L201.81 205.74 L202.72 206.35 L203.63 206.97 L204.54 207.59 L205.45 208.22 L206.35 208.86 L207.26 209.5 L208.17 210.14 L209.08 210.77 L209.99 211.41 L210.9 212.04 L211.81 212.67 L212.72 213.3 L213.63 213.91 L214.54 214.52 L215.45 215.13 L216.36 215.72 L217.27 216.31 L218.18 216.88 L219.09 217.45 L219.99 218 L220.9 218.54 L221.81 219.08 L222.72 219.6 L223.63 220.11 L224.54 220.61 L225.45 221.09 L226.36 221.57 L227.27 222.03 L228.18 222.48 L229.09 222.92 L230 223.35 L230.91 223.77 L231.82 224.17 L232.72 224.57 L233.63 224.95 L234.54 225.33 L235.45 225.69 L236.36 226.04 L237.27 226.39 L238.18 226.72 L239.09 227.04 L240 227.36 L240.91 227.66 L241.82 227.96 L242.73 228.24 L243.64 228.52 L244.55 228.79 L245.45 229.06 L246.36 229.31 L247.27 229.56 L248.18 229.8 L249.09 230.03 L250 230.26 L250.91 230.48 L251.82 230.69 L252.73 230.9 L253.64 231.1 L254.55 231.29 L255.46 231.48 L256.37 231.66 L257.28 231.84 L258.19 232.01 L259.09 232.18 L260 232.34 L260.91 232.5 L261.82 232.65 L262.73 232.8 L263.64 232.94 L264.55 233.09 L265.46 233.22 L266.37 233.35 L267.28 233.48 L268.19 233.61 L269.1 233.73 L270.01 233.85 L270.92 233.96 L271.82 234.07 L272.73 234.18 L273.64 234.29 L274.55 234.39 L275.46 234.49 L276.37 234.58 L277.28 234.68 L278.19 234.77 L279.1 234.86 L280.01 234.94 L280.92 235.03 L281.83 235.11 L282.74 235.19 L283.65 235.27 L284.56 235.34 L285.46 235.42 L286.37 235.49 L287.28 235.56 L288.19 235.63 L289.1 235.69 L290.01 235.76 L290.92 235.82 L291.83 235.88 L292.74 235.94 L293.65 236 L294.56 236.06 L295.47 236.11 L296.38 236.17 L297.29 236.22 L298.19 236.27 L299.1 236.32 L300.01 236.37 L300.92 236.42 L301.83 236.46 L302.74 236.51 L303.65 236.55 L304.56 236.6 L305.47 236.64 L306.38 236.68 L307.29 236.72 L308.2 236.76 L309.11 236.8 L310.02 236.84 L310.93 236.87 L311.83 236.91 L312.74 236.95 L313.65 236.98 L314.56 237.01 L315.47 237.05 L316.38 237.08 L317.29 237.11 L318.2 237.14 L319.11 237.17 L320.02 237.2 L320.93 237.23 L321.84 237.26 L322.75 237.28" fill="none" stroke="#d9272a" stroke-width="2.2" stroke-linejoin="round"/>
<path d="M49.95 235.79 L50.86 235.74 L51.77 235.68 L52.68 235.63 L53.59 235.57 L54.5 235.51 L55.41 235.46 L56.32 235.4 L57.23 235.34 L58.14 235.27 L59.05 235.21 L59.96 235.15 L60.87 235.08 L61.77 235.02 L62.68 234.95 L63.59 234.88 L64.5 234.81 L65.41 234.74 L66.32 234.67 L67.23 234.59 L68.14 234.52 L69.05 234.44 L69.96 234.36 L70.87 234.28 L71.78 234.2 L72.69 234.12 L73.6 234.03 L74.51 233.94 L75.41 233.86 L76.32 233.76 L77.23 233.67 L78.14 233.58 L79.05 233.48 L79.96 233.38 L80.87 233.28 L81.78 233.18 L82.69 233.08 L83.6 232.97 L84.51 232.86 L85.42 232.75 L86.33 232.63 L87.24 232.52 L88.14 232.4 L89.05 232.28 L89.96 232.15 L90.87 232.02 L91.78 231.89 L92.69 231.76 L93.6 231.62 L94.51 231.48 L95.42 231.34 L96.33 231.19 L97.24 231.04 L98.15 230.89 L99.06 230.73 L99.97 230.57 L100.88 230.4 L101.78 230.23 L102.69 230.06 L103.6 229.88 L104.51 229.69 L105.42 229.51 L106.33 229.31 L107.24 229.12 L108.15 228.91 L109.06 228.7 L109.97 228.49 L110.88 228.27 L111.79 228.05 L112.7 227.81 L113.61 227.58 L114.51 227.33 L115.42 227.08 L116.33 226.82 L117.24 226.56 L118.15 226.28 L119.06 226 L119.97 225.72 L120.88 225.42 L121.79 225.11 L122.7 224.8 L123.61 224.48 L124.52 224.14 L125.43 223.8 L126.34 223.45 L127.25 223.08 L128.15 222.71 L129.06 222.33 L129.97 221.93 L130.88 221.52 L131.79 221.1 L132.7 220.67 L133.61 220.22 L134.52 219.76 L135.43 219.28 L136.34 218.8 L137.25 218.29 L138.16 217.77 L139.07 217.24 L139.98 216.69 L140.88 216.12 L141.79 215.54 L142.7 214.94 L143.61 214.32 L144.52 213.69 L145.43 213.03 L146.34 212.36 L147.25 211.67 L148.16 210.96 L149.07 210.23 L149.98 209.48 L150.89 208.71 L151.8 207.93 L152.71 207.12 L153.61 206.3 L154.52 205.46 L155.43 204.6 L156.34 203.72 L157.25 202.83 L158.16 201.93 L159.07 201.01 L159.98 200.08 L160.89 199.14 L161.8 198.2 L162.71 197.25 L163.62 196.3 L164.53 195.34 L165.44 194.4 L166.35 193.46 L167.25 192.53 L168.16 191.62 L169.07 190.73 L169.98 189.86 L170.89 189.02 L171.8 188.22 L172.71 187.46 L173.62 186.74 L174.53 186.07 L175.44 185.46 L176.35 184.9 L177.26 184.41 L178.17 183.99 L179.08 183.63 L179.98 183.36 L180.89 183.16 L181.8 183.03 L182.71 182.99 L183.62 183.03 L184.53 183.15 L185.44 183.34 L186.35 183.62 L187.26 183.97 L188.17 184.39 L189.08 184.88 L189.99 185.44 L190.9 186.06 L191.81 186.73 L192.72 187.45 L193.62 188.22 L194.53 189.02 L195.44 189.87 L196.35 190.74 L197.26 191.63 L198.17 192.55 L199.08 193.48 L199.99 194.43 L200.9 195.38 L201.81 196.34 L202.72 197.3 L203.63 198.25 L204.54 199.2 L205.45 200.14 L206.35 201.08 L207.26 202 L208.17 202.91 L209.08 203.8 L209.99 204.68 L210.9 205.54 L211.81 206.38 L212.72 207.21 L213.63 208.02 L214.54 208.8 L215.45 209.57 L216.36 210.32 L217.27 211.05 L218.18 211.77 L219.09 212.46 L219.99 213.13 L220.9 213.79 L221.81 214.42 L222.72 215.04 L223.63 215.64 L224.54 216.23 L225.45 216.79 L226.36 217.34 L227.27 217.88 L228.18 218.39 L229.09 218.9 L230 219.39 L230.91 219.86 L231.82 220.32 L232.72 220.76 L233.63 221.2 L234.54 221.62 L235.45 222.03 L236.36 222.42 L237.27 222.81 L238.18 223.18 L239.09 223.54 L240 223.89 L240.91 224.23 L241.82 224.57 L242.73 224.89 L243.64 225.2 L244.55 225.51 L245.45 225.8 L246.36 226.09 L247.27 226.37 L248.18 226.64 L249.09 226.91 L250 227.16 L250.91 227.41 L251.82 227.66 L252.73 227.89 L253.64 228.13 L254.55 228.35 L255.46 228.57 L256.37 228.78 L257.28 228.99 L258.19 229.19 L259.09 229.39 L260 229.58 L260.91 229.77 L261.82 229.95 L262.73 230.13 L263.64 230.3 L264.55 230.47 L265.46 230.63 L266.37 230.8 L267.28 230.95 L268.19 231.11 L269.1 231.26 L270.01 231.4 L270.92 231.54 L271.82 231.68 L272.73 231.82 L273.64 231.95 L274.55 232.08 L275.46 232.21 L276.37 232.33 L277.28 232.46 L278.19 232.57 L279.1 232.69 L280.01 232.8 L280.92 232.92 L281.83 233.02 L282.74 233.13 L283.65 233.23 L284.56 233.34 L285.46 233.44 L286.37 233.53 L287.28 233.63 L288.19 233.72 L289.1 233.82 L290.01 233.9 L290.92 233.99 L291.83 234.08 L292.74 234.16 L293.65 234.25 L294.56 234.33 L295.47 234.41 L296.38 234.49 L297.29 234.56 L298.19 234.64 L299.1 234.71 L300.01 234.78 L300.92 234.85 L301.83 234.92 L302.74 234.99 L303.65 235.06 L304.56 235.13 L305.47 235.19 L306.38 235.25 L307.29 235.32 L308.2 235.38 L309.11 235.44 L310.02 235.5 L310.93 235.55 L311.83 235.61 L312.74 235.67 L313.65 235.72 L314.56 235.78 L315.47 235.83 L316.38 235.88 L317.29 235.93 L318.2 235.98 L319.11 236.03 L320.02 236.08 L320.93 236.13 L321.84 236.18 L322.75 236.22" fill="none" stroke="#e68a20" stroke-width="2.2" stroke-linejoin="round"/>
<path d="M49.95 235.77 L50.86 235.71 L51.77 235.65 L52.68 235.59 L53.59 235.53 L54.5 235.47 L55.41 235.4 L56.32 235.34 L57.23 235.27 L58.14 235.21 L59.05 235.14 L59.96 235.07 L60.87 235 L61.77 234.92 L62.68 234.85 L63.59 234.77 L64.5 234.7 L65.41 234.62 L66.32 234.54 L67.23 234.45 L68.14 234.37 L69.05 234.29 L69.96 234.2 L70.87 234.11 L71.78 234.02 L72.69 233.92 L73.6 233.83 L74.51 233.73 L75.41 233.63 L76.32 233.53 L77.23 233.43 L78.14 233.32 L79.05 233.21 L79.96 233.1 L80.87 232.99 L81.78 232.87 L82.69 232.76 L83.6 232.64 L84.51 232.51 L85.42 232.38 L86.33 232.25 L87.24 232.12 L88.14 231.99 L89.05 231.85 L89.96 231.7 L90.87 231.56 L91.78 231.41 L92.69 231.25 L93.6 231.1 L94.51 230.94 L95.42 230.77 L96.33 230.6 L97.24 230.43 L98.15 230.25 L99.06 230.07 L99.97 229.88 L100.88 229.69 L101.78 229.49 L102.69 229.29 L103.6 229.08 L104.51 228.86 L105.42 228.64 L106.33 228.42 L107.24 228.19 L108.15 227.95 L109.06 227.7 L109.97 227.45 L110.88 227.19 L111.79 226.92 L112.7 226.65 L113.61 226.37 L114.51 226.08 L115.42 225.78 L116.33 225.47 L117.24 225.15 L118.15 224.83 L119.06 224.49 L119.97 224.14 L120.88 223.78 L121.79 223.42 L122.7 223.04 L123.61 222.64 L124.52 222.24 L125.43 221.82 L126.34 221.39 L127.25 220.95 L128.15 220.49 L129.06 220.01 L129.97 219.52 L130.88 219.02 L131.79 218.5 L132.7 217.96 L133.61 217.4 L134.52 216.82 L135.43 216.23 L136.34 215.61 L137.25 214.97 L138.16 214.31 L139.07 213.63 L139.98 212.92 L140.88 212.19 L141.79 211.44 L142.7 210.65 L143.61 209.84 L144.52 209.01 L145.43 208.14 L146.34 207.24 L147.25 206.31 L148.16 205.35 L149.07 204.35 L149.98 203.32 L150.89 202.25 L151.8 201.15 L152.71 200.01 L153.61 198.82 L154.52 197.6 L155.43 196.34 L156.34 195.04 L157.25 193.69 L158.16 192.3 L159.07 190.87 L159.98 189.39 L160.89 187.87 L161.8 186.3 L162.71 184.69 L163.62 183.04 L164.53 181.34 L165.44 179.6 L166.35 177.82 L167.25 176 L168.16 174.15 L169.07 172.27 L169.98 170.35 L170.89 168.42 L171.8 166.46 L172.71 164.49 L173.62 162.51 L174.53 160.53 L175.44 158.56 L176.35 156.6 L177.26 154.67 L178.17 152.77 L179.08 150.92 L179.98 149.12 L180.89 147.39 L181.8 145.74 L182.71 144.19 L183.62 142.73 L184.53 141.39 L185.44 140.18 L186.35 139.1 L187.26 138.17 L188.17 137.4 L189.08 136.78 L189.99 136.34 L190.9 136.07 L191.81 135.97 L192.72 136.03 L193.62 136.23 L194.53 136.56 L195.44 137.03 L196.35 137.62 L197.26 138.35 L198.17 139.18 L199.08 140.14 L199.99 141.2 L200.9 142.36 L201.81 143.61 L202.72 144.94 L203.63 146.35 L204.54 147.83 L205.45 149.37 L206.35 150.96 L207.26 152.59 L208.17 154.26 L209.08 155.96 L209.99 157.68 L210.9 159.42 L211.81 161.16 L212.72 162.91 L213.63 164.66 L214.54 166.4 L215.45 168.13 L216.36 169.84 L217.27 171.54 L218.18 173.21 L219.09 174.86 L219.99 176.49 L220.9 178.09 L221.81 179.65 L222.72 181.19 L223.63 182.69 L224.54 184.16 L225.45 185.6 L226.36 187 L227.27 188.37 L228.18 189.7 L229.09 191 L230 192.26 L230.91 193.49 L231.82 194.69 L232.72 195.85 L233.63 196.98 L234.54 198.08 L235.45 199.15 L236.36 200.18 L237.27 201.19 L238.18 202.16 L239.09 203.11 L240 204.03 L240.91 204.92 L241.82 205.78 L242.73 206.62 L243.64 207.43 L244.55 208.22 L245.45 208.99 L246.36 209.73 L247.27 210.45 L248.18 211.15 L249.09 211.83 L250 212.48 L250.91 213.12 L251.82 213.74 L252.73 214.34 L253.64 214.92 L254.55 215.49 L255.46 216.04 L256.37 216.57 L257.28 217.09 L258.19 217.59 L259.09 218.08 L260 218.55 L260.91 219.01 L261.82 219.46 L262.73 219.89 L263.64 220.32 L264.55 220.73 L265.46 221.13 L266.37 221.51 L267.28 221.89 L268.19 222.26 L269.1 222.62 L270.01 222.96 L270.92 223.3 L271.82 223.63 L272.73 223.95 L273.64 224.26 L274.55 224.57 L275.46 224.86 L276.37 225.15 L277.28 225.43 L278.19 225.7 L279.1 225.97 L280.01 226.23 L280.92 226.48 L281.83 226.73 L282.74 226.97 L283.65 227.21 L284.56 227.43 L285.46 227.66 L286.37 227.88 L287.28 228.09 L288.19 228.3 L289.1 228.5 L290.01 228.7 L290.92 228.89 L291.83 229.08 L292.74 229.26 L293.65 229.44 L294.56 229.62 L295.47 229.79 L296.38 229.96 L297.29 230.12 L298.19 230.28 L299.1 230.44 L300.01 230.59 L300.92 230.74 L301.83 230.89 L302.74 231.03 L303.65 231.17 L304.56 231.31 L305.47 231.44 L306.38 231.58 L307.29 231.7 L308.2 231.83 L309.11 231.95 L310.02 232.07 L310.93 232.19 L311.83 232.31 L312.74 232.42 L313.65 232.53 L314.56 232.64 L315.47 232.75 L316.38 232.86 L317.29 232.96 L318.2 233.06 L319.11 233.16 L320.02 233.25 L320.93 233.35 L321.84 233.44 L322.75 233.53" fill="none" stroke="#1d8a3c" stroke-width="2.2" stroke-linejoin="round"/>
<path d="M49.95 232.36 L50.86 232.29 L51.77 232.22 L52.68 232.15 L53.59 232.07 L54.5 232 L55.41 231.92 L56.32 231.85 L57.23 231.77 L58.14 231.69 L59.05 231.6 L59.96 231.52 L60.87 231.43 L61.77 231.34 L62.68 231.25 L63.59 231.16 L64.5 231.06 L65.41 230.96 L66.32 230.86 L67.23 230.76 L68.14 230.66 L69.05 230.55 L69.96 230.44 L70.87 230.32 L71.78 230.21 L72.69 230.09 L73.6 229.97 L74.51 229.84 L75.41 229.71 L76.32 229.58 L77.23 229.45 L78.14 229.31 L79.05 229.16 L79.96 229.02 L80.87 228.87 L81.78 228.71 L82.69 228.56 L83.6 228.39 L84.51 228.23 L85.42 228.05 L86.33 227.88 L87.24 227.7 L88.14 227.51 L89.05 227.32 L89.96 227.12 L90.87 226.92 L91.78 226.71 L92.69 226.49 L93.6 226.27 L94.51 226.04 L95.42 225.81 L96.33 225.57 L97.24 225.32 L98.15 225.06 L99.06 224.8 L99.97 224.53 L100.88 224.25 L101.78 223.96 L102.69 223.66 L103.6 223.36 L104.51 223.04 L105.42 222.71 L106.33 222.38 L107.24 222.03 L108.15 221.67 L109.06 221.3 L109.97 220.92 L110.88 220.52 L111.79 220.12 L112.7 219.69 L113.61 219.26 L114.51 218.81 L115.42 218.35 L116.33 217.86 L117.24 217.37 L118.15 216.85 L119.06 216.32 L119.97 215.77 L120.88 215.21 L121.79 214.62 L122.7 214.01 L123.61 213.38 L124.52 212.73 L125.43 212.05 L126.34 211.35 L127.25 210.63 L128.15 209.88 L129.06 209.1 L129.97 208.29 L130.88 207.46 L131.79 206.6 L132.7 205.7 L133.61 204.77 L134.52 203.81 L135.43 202.82 L136.34 201.78 L137.25 200.71 L138.16 199.6 L139.07 198.46 L139.98 197.27 L140.88 196.03 L141.79 194.75 L142.7 193.43 L143.61 192.06 L144.52 190.64 L145.43 189.18 L146.34 187.66 L147.25 186.08 L148.16 184.46 L149.07 182.78 L149.98 181.04 L150.89 179.25 L151.8 177.4 L152.71 175.5 L153.61 173.53 L154.52 171.5 L155.43 169.42 L156.34 167.28 L157.25 165.08 L158.16 162.82 L159.07 160.51 L159.98 158.15 L160.89 155.73 L161.8 153.26 L162.71 150.75 L163.62 148.2 L164.53 145.61 L165.44 142.98 L166.35 140.33 L167.25 137.67 L168.16 134.99 L169.07 132.3 L169.98 129.62 L170.89 126.96 L171.8 124.32 L172.71 121.72 L173.62 119.16 L174.53 116.66 L175.44 114.24 L176.35 111.9 L177.26 109.66 L178.17 107.53 L179.08 105.53 L179.98 103.66 L180.89 101.95 L181.8 100.4 L182.71 99.02 L183.62 97.82 L184.53 96.82 L185.44 96.02 L186.35 95.42 L187.26 95.03 L188.17 94.86 L189.08 94.92 L189.99 95.21 L190.9 95.74 L191.81 96.5 L192.72 97.49 L193.62 98.7 L194.53 100.12 L195.44 101.74 L196.35 103.54 L197.26 105.5 L198.17 107.63 L199.08 109.89 L199.99 112.28 L200.9 114.77 L201.81 117.36 L202.72 120.02 L203.63 122.75 L204.54 125.52 L205.45 128.33 L206.35 131.16 L207.26 134 L208.17 136.84 L209.08 139.67 L209.99 142.48 L210.9 145.26 L211.81 148.01 L212.72 150.71 L213.63 153.37 L214.54 155.98 L215.45 158.53 L216.36 161.03 L217.27 163.46 L218.18 165.83 L219.09 168.14 L219.99 170.38 L220.9 172.55 L221.81 174.66 L222.72 176.71 L223.63 178.69 L224.54 180.6 L225.45 182.45 L226.36 184.24 L227.27 185.96 L228.18 187.63 L229.09 189.24 L230 190.79 L230.91 192.28 L231.82 193.72 L232.72 195.11 L233.63 196.45 L234.54 197.74 L235.45 198.98 L236.36 200.18 L237.27 201.33 L238.18 202.44 L239.09 203.5 L240 204.53 L240.91 205.52 L241.82 206.48 L242.73 207.39 L243.64 208.28 L244.55 209.13 L245.45 209.95 L246.36 210.74 L247.27 211.5 L248.18 212.24 L249.09 212.95 L250 213.63 L250.91 214.29 L251.82 214.92 L252.73 215.53 L253.64 216.12 L254.55 216.69 L255.46 217.24 L256.37 217.77 L257.28 218.28 L258.19 218.77 L259.09 219.25 L260 219.71 L260.91 220.16 L261.82 220.59 L262.73 221 L263.64 221.4 L264.55 221.79 L265.46 222.17 L266.37 222.53 L267.28 222.88 L268.19 223.22 L269.1 223.55 L270.01 223.87 L270.92 224.18 L271.82 224.47 L272.73 224.76 L273.64 225.04 L274.55 225.31 L275.46 225.58 L276.37 225.83 L277.28 226.08 L278.19 226.32 L279.1 226.55 L280.01 226.78 L280.92 227 L281.83 227.21 L282.74 227.41 L283.65 227.61 L284.56 227.81 L285.46 228 L286.37 228.18 L287.28 228.36 L288.19 228.53 L289.1 228.7 L290.01 228.86 L290.92 229.02 L291.83 229.18 L292.74 229.33 L293.65 229.47 L294.56 229.62 L295.47 229.76 L296.38 229.89 L297.29 230.02 L298.19 230.15 L299.1 230.27 L300.01 230.39 L300.92 230.51 L301.83 230.63 L302.74 230.74 L303.65 230.85 L304.56 230.96 L305.47 231.06 L306.38 231.16 L307.29 231.26 L308.2 231.36 L309.11 231.45 L310.02 231.54 L310.93 231.63 L311.83 231.72 L312.74 231.8 L313.65 231.89 L314.56 231.97 L315.47 232.05 L316.38 232.12 L317.29 232.2 L318.2 232.27 L319.11 232.35 L320.02 232.42 L320.93 232.48 L321.84 232.55 L322.75 232.62" fill="none" stroke="#2274bb" stroke-width="2.2" stroke-linejoin="round"/>
<path d="M49.95 230.95 L50.86 230.85 L51.77 230.74 L52.68 230.63 L53.59 230.52 L54.5 230.4 L55.41 230.28 L56.32 230.16 L57.23 230.04 L58.14 229.92 L59.05 229.79 L59.96 229.66 L60.87 229.53 L61.77 229.39 L62.68 229.25 L63.59 229.11 L64.5 228.96 L65.41 228.81 L66.32 228.66 L67.23 228.51 L68.14 228.35 L69.05 228.19 L69.96 228.02 L70.87 227.85 L71.78 227.68 L72.69 227.5 L73.6 227.32 L74.51 227.13 L75.41 226.94 L76.32 226.75 L77.23 226.55 L78.14 226.35 L79.05 226.14 L79.96 225.92 L80.87 225.7 L81.78 225.48 L82.69 225.25 L83.6 225.01 L84.51 224.77 L85.42 224.52 L86.33 224.26 L87.24 224 L88.14 223.73 L89.05 223.46 L89.96 223.18 L90.87 222.89 L91.78 222.59 L92.69 222.28 L93.6 221.97 L94.51 221.64 L95.42 221.31 L96.33 220.97 L97.24 220.62 L98.15 220.26 L99.06 219.89 L99.97 219.51 L100.88 219.12 L101.78 218.72 L102.69 218.3 L103.6 217.87 L104.51 217.43 L105.42 216.98 L106.33 216.51 L107.24 216.03 L108.15 215.54 L109.06 215.03 L109.97 214.5 L110.88 213.96 L111.79 213.4 L112.7 212.83 L113.61 212.23 L114.51 211.62 L115.42 210.99 L116.33 210.33 L117.24 209.66 L118.15 208.96 L119.06 208.24 L119.97 207.49 L120.88 206.73 L121.79 205.93 L122.7 205.11 L123.61 204.26 L124.52 203.38 L125.43 202.47 L126.34 201.53 L127.25 200.56 L128.15 199.55 L129.06 198.5 L129.97 197.42 L130.88 196.3 L131.79 195.14 L132.7 193.94 L133.61 192.7 L134.52 191.41 L135.43 190.07 L136.34 188.69 L137.25 187.25 L138.16 185.76 L139.07 184.21 L139.98 182.61 L140.88 180.95 L141.79 179.23 L142.7 177.44 L143.61 175.59 L144.52 173.67 L145.43 171.68 L146.34 169.62 L147.25 167.48 L148.16 165.26 L149.07 162.96 L149.98 160.58 L150.89 158.12 L151.8 155.57 L152.71 152.93 L153.61 150.2 L154.52 147.38 L155.43 144.47 L156.34 141.46 L157.25 138.37 L158.16 135.18 L159.07 131.89 L159.98 128.52 L160.89 125.06 L161.8 121.51 L162.71 117.88 L163.62 114.17 L164.53 110.38 L165.44 106.54 L166.35 102.64 L167.25 98.69 L168.16 94.7 L169.07 90.69 L169.98 86.68 L170.89 82.66 L171.8 78.68 L172.71 74.73 L173.62 70.85 L174.53 67.05 L175.44 63.36 L176.35 59.8 L177.26 56.4 L178.17 53.17 L179.08 50.15 L179.98 47.35 L180.89 44.81 L181.8 42.54 L182.71 40.57 L183.62 38.91 L184.53 37.58 L185.44 36.58 L186.35 35.95 L187.26 35.67 L188.17 35.75 L189.08 36.19 L189.99 37 L190.9 38.16 L191.81 39.66 L192.72 41.48 L193.62 43.62 L194.53 46.04 L195.44 48.73 L196.35 51.66 L197.26 54.81 L198.17 58.16 L199.08 61.67 L199.99 65.33 L200.9 69.1 L201.81 72.98 L202.72 76.92 L203.63 80.92 L204.54 84.95 L205.45 88.99 L206.35 93.04 L207.26 97.06 L208.17 101.05 L209.08 105 L209.99 108.9 L210.9 112.73 L211.81 116.49 L212.72 120.18 L213.63 123.78 L214.54 127.3 L215.45 130.73 L216.36 134.06 L217.27 137.31 L218.18 140.46 L219.09 143.51 L219.99 146.47 L220.9 149.34 L221.81 152.11 L222.72 154.8 L223.63 157.39 L224.54 159.9 L225.45 162.32 L226.36 164.65 L227.27 166.9 L228.18 169.08 L229.09 171.17 L230 173.2 L230.91 175.15 L231.82 177.03 L232.72 178.84 L233.63 180.59 L234.54 182.27 L235.45 183.9 L236.36 185.46 L237.27 186.97 L238.18 188.43 L239.09 189.83 L240 191.19 L240.91 192.49 L241.82 193.75 L242.73 194.97 L243.64 196.14 L244.55 197.28 L245.45 198.37 L246.36 199.42 L247.27 200.44 L248.18 201.43 L249.09 202.38 L250 203.3 L250.91 204.18 L251.82 205.04 L252.73 205.87 L253.64 206.67 L254.55 207.45 L255.46 208.2 L256.37 208.93 L257.28 209.63 L258.19 210.31 L259.09 210.97 L260 211.61 L260.91 212.22 L261.82 212.82 L262.73 213.4 L263.64 213.97 L264.55 214.51 L265.46 215.04 L266.37 215.55 L267.28 216.05 L268.19 216.53 L269.1 217 L270.01 217.46 L270.92 217.9 L271.82 218.33 L272.73 218.75 L273.64 219.15 L274.55 219.54 L275.46 219.93 L276.37 220.3 L277.28 220.66 L278.19 221.01 L279.1 221.35 L280.01 221.69 L280.92 222.01 L281.83 222.33 L282.74 222.63 L283.65 222.93 L284.56 223.22 L285.46 223.51 L286.37 223.78 L287.28 224.05 L288.19 224.31 L289.1 224.57 L290.01 224.82 L290.92 225.06 L291.83 225.3 L292.74 225.53 L293.65 225.75 L294.56 225.97 L295.47 226.19 L296.38 226.4 L297.29 226.6 L298.19 226.8 L299.1 227 L300.01 227.19 L300.92 227.37 L301.83 227.55 L302.74 227.73 L303.65 227.9 L304.56 228.07 L305.47 228.24 L306.38 228.4 L307.29 228.56 L308.2 228.71 L309.11 228.87 L310.02 229.01 L310.93 229.16 L311.83 229.3 L312.74 229.44 L313.65 229.58 L314.56 229.71 L315.47 229.84 L316.38 229.97 L317.29 230.09 L318.2 230.21 L319.11 230.33 L320.02 230.45 L320.93 230.57 L321.84 230.68 L322.75 230.79" fill="none" stroke="#222a84" stroke-width="2.2" stroke-linejoin="round"/>
</g>
<rect x="55.2" y="26.6" width="262.3" height="216.8" fill="none" stroke="#2e2e2e" stroke-width="1.5"/>
<line x1="55.2" y1="240.5" x2="58.4" y2="240.5" stroke="#2e2e2e" stroke-width="1.5"/>
<line x1="317.5" y1="240.5" x2="314.3" y2="240.5" stroke="#2e2e2e" stroke-width="1.5"/>
<text x="50.6" y="244.8" font-size="12" text-anchor="end" fill="#1a1a1a">0</text>
<line x1="55.2" y1="217.98" x2="58.4" y2="217.98" stroke="#2e2e2e" stroke-width="1.5"/>
<line x1="317.5" y1="217.98" x2="314.3" y2="217.98" stroke="#2e2e2e" stroke-width="1.5"/>
<text x="50.6" y="222.28" font-size="12" text-anchor="end" fill="#1a1a1a">200</text>
<line x1="55.2" y1="195.46" x2="58.4" y2="195.46" stroke="#2e2e2e" stroke-width="1.5"/>
<line x1="317.5" y1="195.46" x2="314.3" y2="195.46" stroke="#2e2e2e" stroke-width="1.5"/>
<text x="50.6" y="199.76" font-size="12" text-anchor="end" fill="#1a1a1a">400</text>
<line x1="55.2" y1="172.94" x2="58.4" y2="172.94" stroke="#2e2e2e" stroke-width="1.5"/>
<line x1="317.5" y1="172.94" x2="314.3" y2="172.94" stroke="#2e2e2e" stroke-width="1.5"/>
<text x="50.6" y="177.24" font-size="12" text-anchor="end" fill="#1a1a1a">600</text>
<line x1="55.2" y1="150.42" x2="58.4" y2="150.42" stroke="#2e2e2e" stroke-width="1.5"/>
<line x1="317.5" y1="150.42" x2="314.3" y2="150.42" stroke="#2e2e2e" stroke-width="1.5"/>
<text x="50.6" y="154.72" font-size="12" text-anchor="end" fill="#1a1a1a">800</text>
<line x1="55.2" y1="127.9" x2="58.4" y2="127.9" stroke="#2e2e2e" stroke-width="1.5"/>
<line x1="317.5" y1="127.9" x2="314.3" y2="127.9" stroke="#2e2e2e" stroke-width="1.5"/>
<text x="50.6" y="132.2" font-size="12" text-anchor="end" fill="#1a1a1a">1,000</text>
<line x1="55.2" y1="105.38" x2="58.4" y2="105.38" stroke="#2e2e2e" stroke-width="1.5"/>
<line x1="317.5" y1="105.38" x2="314.3" y2="105.38" stroke="#2e2e2e" stroke-width="1.5"/>
<text x="50.6" y="109.68" font-size="12" text-anchor="end" fill="#1a1a1a">1,200</text>
<line x1="55.2" y1="82.86" x2="58.4" y2="82.86" stroke="#2e2e2e" stroke-width="1.5"/>
<line x1="317.5" y1="82.86" x2="314.3" y2="82.86" stroke="#2e2e2e" stroke-width="1.5"/>
<text x="50.6" y="87.16" font-size="12" text-anchor="end" fill="#1a1a1a">1,400</text>
<line x1="55.2" y1="60.34" x2="58.4" y2="60.34" stroke="#2e2e2e" stroke-width="1.5"/>
<line x1="317.5" y1="60.34" x2="314.3" y2="60.34" stroke="#2e2e2e" stroke-width="1.5"/>
<text x="50.6" y="64.64" font-size="12" text-anchor="end" fill="#1a1a1a">1,600</text>
<line x1="55.2" y1="37.82" x2="58.4" y2="37.82" stroke="#2e2e2e" stroke-width="1.5"/>
<line x1="317.5" y1="37.82" x2="314.3" y2="37.82" stroke="#2e2e2e" stroke-width="1.5"/>
<text x="50.6" y="42.12" font-size="12" text-anchor="end" fill="#1a1a1a">1,800</text>
<line x1="55.2" y1="243.4" x2="55.2" y2="240.2" stroke="#2e2e2e" stroke-width="1.5"/>
<line x1="55.2" y1="26.6" x2="55.2" y2="29.8" stroke="#2e2e2e" stroke-width="1.5"/>
<text x="55.2" y="259.8" font-size="12" text-anchor="middle" fill="#1a1a1a">657.8</text>
<line x1="107.66" y1="243.4" x2="107.66" y2="240.2" stroke="#2e2e2e" stroke-width="1.5"/>
<line x1="107.66" y1="26.6" x2="107.66" y2="29.8" stroke="#2e2e2e" stroke-width="1.5"/>
<text x="107.66" y="259.8" font-size="12" text-anchor="middle" fill="#1a1a1a">657.9</text>
<line x1="160.12" y1="243.4" x2="160.12" y2="240.2" stroke="#2e2e2e" stroke-width="1.5"/>
<line x1="160.12" y1="26.6" x2="160.12" y2="29.8" stroke="#2e2e2e" stroke-width="1.5"/>
<text x="160.12" y="259.8" font-size="12" text-anchor="middle" fill="#1a1a1a">658</text>
<line x1="212.58" y1="243.4" x2="212.58" y2="240.2" stroke="#2e2e2e" stroke-width="1.5"/>
<line x1="212.58" y1="26.6" x2="212.58" y2="29.8" stroke="#2e2e2e" stroke-width="1.5"/>
<text x="212.58" y="259.8" font-size="12" text-anchor="middle" fill="#1a1a1a">658.1</text>
<line x1="265.04" y1="243.4" x2="265.04" y2="240.2" stroke="#2e2e2e" stroke-width="1.5"/>
<line x1="265.04" y1="26.6" x2="265.04" y2="29.8" stroke="#2e2e2e" stroke-width="1.5"/>
<text x="265.04" y="259.8" font-size="12" text-anchor="middle" fill="#1a1a1a">658.2</text>
<line x1="317.5" y1="243.4" x2="317.5" y2="240.2" stroke="#2e2e2e" stroke-width="1.5"/>
<line x1="317.5" y1="26.6" x2="317.5" y2="29.8" stroke="#2e2e2e" stroke-width="1.5"/>
<text x="317.5" y="259.8" font-size="12" text-anchor="middle" fill="#1a1a1a">658.3</text>
<text x="186" y="279.4" font-size="12.6" text-anchor="middle" fill="#1a1a1a">Wavelength (nm)</text>
<text x="0" y="0" font-size="12.6" text-anchor="middle" fill="#1a1a1a" transform="translate(10.9 134.5) rotate(-90)">Intensity (counts)</text>
<text y="58.9" font-size="12.4" fill="#222a84"><tspan x="244.4" font-style="italic">P</tspan><tspan x="252.4" dy="3.4" font-size="8.6">in</tspan><tspan x="262.4" dy="-3.4">=</tspan><tspan x="273.5">8</tspan><tspan x="283.9">μW</tspan></text>
<text x="306.6" y="77.8" font-size="12.4" text-anchor="end" fill="#2274bb">5 μW</text>
<text x="306.6" y="95.5" font-size="12.4" text-anchor="end" fill="#1d8040">1.1 μW</text>
<text x="306.6" y="113.3" font-size="12.4" text-anchor="end" fill="#e08a2a">0.3 μW</text>
<text x="306.6" y="131" font-size="12.4" text-anchor="end" fill="#d12a2e">0.1 μW</text>
<text x="0.2" y="18" font-size="21" font-weight="bold" fill="#111">a</text>
<g clip-path="url(#cb)">
<path d="M353.5 309.7 L354.5 308.87 L355.5 308.03 L356.5 307.2 L357.5 306.37 L358.5 305.53 L359.5 304.7 L360.5 303.86 L361.5 303.03 L362.5 302.19 L363.5 301.36 L364.5 300.52 L365.5 299.69 L366.5 298.85 L367.5 298.01 L368.5 297.18 L369.5 296.34 L370.5 295.5 L371.5 294.67 L372.5 293.83 L373.5 292.99 L374.5 292.15 L375.5 291.32 L376.5 290.48 L377.5 289.64 L378.5 288.8 L379.5 287.96 L380.5 287.12 L381.5 286.28 L382.5 285.44 L383.5 284.6 L384.5 283.76 L385.5 282.91 L386.5 282.07 L387.5 281.23 L388.5 280.39 L389.5 279.54 L390.5 278.7 L391.5 277.86 L392.5 277.01 L393.5 276.17 L394.5 275.32 L395.5 274.48 L396.5 273.63 L397.5 272.78 L398.5 271.94 L399.5 271.09 L400.5 270.24 L401.5 269.39 L402.5 268.54 L403.5 267.69 L404.5 266.84 L405.5 265.99 L406.5 265.14 L407.5 264.29 L408.5 263.44 L409.5 262.58 L410.5 261.73 L411.5 260.87 L412.5 260.02 L413.5 259.16 L414.5 258.31 L415.5 257.45 L416.5 256.59 L417.5 255.73 L418.5 254.87 L419.5 254.01 L420.5 253.15 L421.5 252.29 L422.5 251.42 L423.5 250.56 L424.5 249.7 L425.5 248.83 L426.5 247.96 L427.5 247.1 L428.5 246.23 L429.5 245.36 L430.5 244.49 L431.5 243.61 L432.5 242.74 L433.5 241.87 L434.5 240.99 L435.5 240.12 L436.5 239.24 L437.5 238.36 L438.5 237.48 L439.5 236.6 L440.5 235.72 L441.5 234.83 L442.5 233.95 L443.5 233.06 L444.5 232.17 L445.5 231.28 L446.5 230.39 L447.5 229.5 L448.5 228.6 L449.5 227.71 L450.5 226.81 L451.5 225.91 L452.5 225.01 L453.5 224.11 L454.5 223.2 L455.5 222.3 L456.5 221.39 L457.5 220.48 L458.5 219.56 L459.5 218.65 L460.5 217.73 L461.5 216.81 L462.5 215.89 L463.5 214.97 L464.5 214.04 L465.5 213.11 L466.5 212.18 L467.5 211.25 L468.5 210.31 L469.5 209.37 L470.5 208.43 L471.5 207.49 L472.5 206.54 L473.5 205.59 L474.5 204.64 L475.5 203.68 L476.5 202.72 L477.5 201.76 L478.5 200.79 L479.5 199.82 L480.5 198.85 L481.5 197.87 L482.5 196.89 L483.5 195.91 L484.5 194.92 L485.5 193.93 L486.5 192.94 L487.5 191.94 L488.5 190.93 L489.5 189.92 L490.5 188.91 L491.5 187.89 L492.5 186.87 L493.5 185.84 L494.5 184.81 L495.5 183.77 L496.5 182.73 L497.5 181.69 L498.5 180.63 L499.5 179.57 L500.5 178.51 L501.5 177.44 L502.5 176.37 L503.5 175.29 L504.5 174.2 L505.5 173.1 L506.5 172.01 L507.5 170.9 L508.5 169.79 L509.5 168.67 L510.5 167.54 L511.5 166.41 L512.5 165.27 L513.5 164.12 L514.5 162.97 L515.5 161.8 L516.5 160.64 L517.5 159.46 L518.5 158.27 L519.5 157.08 L520.5 155.88 L521.5 154.68 L522.5 153.46 L523.5 152.24 L524.5 151.01 L525.5 149.77 L526.5 148.52 L527.5 147.27 L528.5 146.01 L529.5 144.74 L530.5 143.46 L531.5 142.18 L532.5 140.89 L533.5 139.59 L534.5 138.28 L535.5 136.97 L536.5 135.65 L537.5 134.33 L538.5 133 L539.5 131.67 L540.5 130.33 L541.5 128.98 L542.5 127.63 L543.5 126.28 L544.5 124.92 L545.5 123.57 L546.5 122.2 L547.5 120.84 L548.5 119.48 L549.5 118.11 L550.5 116.75 L551.5 115.38 L552.5 114.02 L553.5 112.66 L554.5 111.3 L555.5 109.94 L556.5 108.58 L557.5 107.23 L558.5 105.88 L559.5 104.54 L560.5 103.2 L561.5 101.86 L562.5 100.53 L563.5 99.21 L564.5 97.89 L565.5 96.58 L566.5 95.28 L567.5 93.98 L568.5 92.69 L569.5 91.41 L570.5 90.13 L571.5 88.86 L572.5 87.6 L573.5 86.35 L574.5 85.1 L575.5 83.86 L576.5 82.63 L577.5 81.41 L578.5 80.2 L579.5 78.99 L580.5 77.79 L581.5 76.6 L582.5 75.42 L583.5 74.24 L584.5 73.07 L585.5 71.91 L586.5 70.76 L587.5 69.61 L588.5 68.47 L589.5 67.34 L590.5 66.21 L591.5 65.09 L592.5 63.98 L593.5 62.88 L594.5 61.78 L595.5 60.68 L596.5 59.6 L597.5 58.52 L598.5 57.44 L599.5 56.37 L600.5 55.31 L601.5 54.25 L602.5 53.2 L603.5 52.15 L604.5 51.11 L605.5 50.08 L606.5 49.04 L607.5 48.02 L608.5 47 L609.5 45.98 L610.5 44.97 L611.5 43.96 L612.5 42.95 L613.5 41.95 L614.5 40.96 L615.5 39.97 L616.5 38.98 L617.5 38 L618.5 37.02 L619.5 36.04 L620.5 35.07 L621.5 34.1 L622.5 33.13 L623.5 32.17 L624.5 31.21 L625.5 30.25" fill="none" stroke="#6e9e32" stroke-width="2.0" stroke-dasharray="7.5 5" stroke-linejoin="round" stroke-dashoffset="0"/>
<path d="M353.5 283 L354.5 282.16 L355.5 281.33 L356.5 280.49 L357.5 279.65 L358.5 278.81 L359.5 277.97 L360.5 277.13 L361.5 276.29 L362.5 275.45 L363.5 274.61 L364.5 273.77 L365.5 272.93 L366.5 272.09 L367.5 271.25 L368.5 270.41 L369.5 269.56 L370.5 268.72 L371.5 267.88 L372.5 267.03 L373.5 266.19 L374.5 265.34 L375.5 264.5 L376.5 263.65 L377.5 262.81 L378.5 261.96 L379.5 261.11 L380.5 260.27 L381.5 259.42 L382.5 258.57 L383.5 257.72 L384.5 256.87 L385.5 256.02 L386.5 255.17 L387.5 254.32 L388.5 253.47 L389.5 252.62 L390.5 251.77 L391.5 250.91 L392.5 250.06 L393.5 249.2 L394.5 248.35 L395.5 247.49 L396.5 246.64 L397.5 245.78 L398.5 244.92 L399.5 244.06 L400.5 243.2 L401.5 242.34 L402.5 241.48 L403.5 240.62 L404.5 239.76 L405.5 238.89 L406.5 238.03 L407.5 237.16 L408.5 236.3 L409.5 235.43 L410.5 234.56 L411.5 233.69 L412.5 232.82 L413.5 231.95 L414.5 231.08 L415.5 230.21 L416.5 229.33 L417.5 228.46 L418.5 227.58 L419.5 226.71 L420.5 225.83 L421.5 224.95 L422.5 224.07 L423.5 223.19 L424.5 222.3 L425.5 221.42 L426.5 220.53 L427.5 219.64 L428.5 218.76 L429.5 217.87 L430.5 216.97 L431.5 216.08 L432.5 215.19 L433.5 214.29 L434.5 213.39 L435.5 212.49 L436.5 211.59 L437.5 210.69 L438.5 209.79 L439.5 208.88 L440.5 207.98 L441.5 207.07 L442.5 206.16 L443.5 205.24 L444.5 204.33 L445.5 203.41 L446.5 202.49 L447.5 201.57 L448.5 200.65 L449.5 199.73 L450.5 198.8 L451.5 197.87 L452.5 196.94 L453.5 196.01 L454.5 195.07 L455.5 194.14 L456.5 193.2 L457.5 192.26 L458.5 191.31 L459.5 190.36 L460.5 189.42 L461.5 188.46 L462.5 187.51 L463.5 186.55 L464.5 185.59 L465.5 184.63 L466.5 183.67 L467.5 182.7 L468.5 181.73 L469.5 180.76 L470.5 179.78 L471.5 178.81 L472.5 177.82 L473.5 176.84 L474.5 175.85 L475.5 174.87 L476.5 173.87 L477.5 172.88 L478.5 171.88 L479.5 170.88 L480.5 169.88 L481.5 168.87 L482.5 167.86 L483.5 166.85 L484.5 165.83 L485.5 164.81 L486.5 163.79 L487.5 162.77 L488.5 161.74 L489.5 160.71 L490.5 159.68 L491.5 158.64 L492.5 157.6 L493.5 156.56 L494.5 155.52 L495.5 154.47 L496.5 153.42 L497.5 152.37 L498.5 151.32 L499.5 150.26 L500.5 149.21 L501.5 148.14 L502.5 147.08 L503.5 146.02 L504.5 144.95 L505.5 143.88 L506.5 142.81 L507.5 141.74 L508.5 140.67 L509.5 139.59 L510.5 138.52 L511.5 137.44 L512.5 136.36 L513.5 135.28 L514.5 134.2 L515.5 133.12 L516.5 132.04 L517.5 130.96 L518.5 129.88 L519.5 128.8 L520.5 127.72 L521.5 126.64 L522.5 125.56 L523.5 124.48 L524.5 123.4 L525.5 122.32 L526.5 121.24 L527.5 120.17 L528.5 119.09 L529.5 118.02 L530.5 116.95 L531.5 115.88 L532.5 114.81 L533.5 113.74 L534.5 112.67 L535.5 111.61 L536.5 110.55 L537.5 109.49 L538.5 108.43 L539.5 107.37 L540.5 106.32 L541.5 105.27 L542.5 104.22 L543.5 103.18 L544.5 102.14 L545.5 101.1 L546.5 100.06 L547.5 99.02 L548.5 97.99 L549.5 96.96 L550.5 95.94 L551.5 94.91 L552.5 93.89 L553.5 92.88 L554.5 91.86 L555.5 90.85 L556.5 89.84 L557.5 88.84 L558.5 87.83 L559.5 86.83 L560.5 85.84 L561.5 84.84 L562.5 83.85 L563.5 82.86 L564.5 81.88 L565.5 80.9 L566.5 79.92 L567.5 78.94 L568.5 77.97 L569.5 76.99 L570.5 76.03 L571.5 75.06 L572.5 74.1 L573.5 73.13 L574.5 72.18 L575.5 71.22 L576.5 70.27 L577.5 69.32 L578.5 68.37 L579.5 67.42 L580.5 66.48 L581.5 65.54 L582.5 64.6 L583.5 63.66 L584.5 62.73 L585.5 61.8 L586.5 60.87 L587.5 59.94 L588.5 59.01 L589.5 58.09 L590.5 57.17 L591.5 56.25 L592.5 55.33 L593.5 54.42 L594.5 53.5 L595.5 52.59 L596.5 51.68 L597.5 50.77 L598.5 49.87 L599.5 48.96 L600.5 48.06 L601.5 47.16 L602.5 46.26 L603.5 45.36 L604.5 44.46 L605.5 43.57 L606.5 42.67 L607.5 41.78 L608.5 40.89 L609.5 40 L610.5 39.11 L611.5 38.22 L612.5 37.34 L613.5 36.45 L614.5 35.57 L615.5 34.69 L616.5 33.81 L617.5 32.93 L618.5 32.05 L619.5 31.18 L620.5 30.3 L621.5 29.43 L622.5 28.55 L623.5 27.68 L624.5 26.81 L625.5 25.94" fill="none" stroke="#f0d84a" stroke-width="2.0" stroke-dasharray="7.5 5" stroke-linejoin="round" stroke-dashoffset="0"/>
<path d="M353.5 256.41 L354.5 255.57 L355.5 254.74 L356.5 253.91 L357.5 253.07 L358.5 252.24 L359.5 251.4 L360.5 250.57 L361.5 249.74 L362.5 248.9 L363.5 248.07 L364.5 247.23 L365.5 246.39 L366.5 245.56 L367.5 244.72 L368.5 243.89 L369.5 243.05 L370.5 242.22 L371.5 241.38 L372.5 240.54 L373.5 239.7 L374.5 238.87 L375.5 238.03 L376.5 237.19 L377.5 236.35 L378.5 235.52 L379.5 234.68 L380.5 233.84 L381.5 233 L382.5 232.16 L383.5 231.32 L384.5 230.48 L385.5 229.64 L386.5 228.8 L387.5 227.96 L388.5 227.12 L389.5 226.28 L390.5 225.43 L391.5 224.59 L392.5 223.75 L393.5 222.91 L394.5 222.07 L395.5 221.22 L396.5 220.38 L397.5 219.53 L398.5 218.69 L399.5 217.85 L400.5 217 L401.5 216.16 L402.5 215.31 L403.5 214.46 L404.5 213.62 L405.5 212.77 L406.5 211.92 L407.5 211.08 L408.5 210.23 L409.5 209.38 L410.5 208.53 L411.5 207.68 L412.5 206.83 L413.5 205.98 L414.5 205.13 L415.5 204.28 L416.5 203.43 L417.5 202.58 L418.5 201.73 L419.5 200.87 L420.5 200.02 L421.5 199.17 L422.5 198.31 L423.5 197.46 L424.5 196.61 L425.5 195.75 L426.5 194.89 L427.5 194.04 L428.5 193.18 L429.5 192.33 L430.5 191.47 L431.5 190.61 L432.5 189.75 L433.5 188.89 L434.5 188.03 L435.5 187.17 L436.5 186.31 L437.5 185.45 L438.5 184.59 L439.5 183.73 L440.5 182.87 L441.5 182.01 L442.5 181.14 L443.5 180.28 L444.5 179.42 L445.5 178.55 L446.5 177.69 L447.5 176.82 L448.5 175.96 L449.5 175.09 L450.5 174.23 L451.5 173.36 L452.5 172.49 L453.5 171.62 L454.5 170.76 L455.5 169.89 L456.5 169.02 L457.5 168.15 L458.5 167.28 L459.5 166.41 L460.5 165.54 L461.5 164.67 L462.5 163.8 L463.5 162.93 L464.5 162.06 L465.5 161.19 L466.5 160.31 L467.5 159.44 L468.5 158.57 L469.5 157.7 L470.5 156.82 L471.5 155.95 L472.5 155.08 L473.5 154.2 L474.5 153.33 L475.5 152.45 L476.5 151.58 L477.5 150.71 L478.5 149.83 L479.5 148.96 L480.5 148.08 L481.5 147.21 L482.5 146.33 L483.5 145.46 L484.5 144.58 L485.5 143.71 L486.5 142.83 L487.5 141.96 L488.5 141.08 L489.5 140.21 L490.5 139.33 L491.5 138.46 L492.5 137.58 L493.5 136.71 L494.5 135.83 L495.5 134.96 L496.5 134.08 L497.5 133.21 L498.5 132.34 L499.5 131.46 L500.5 130.59 L501.5 129.72 L502.5 128.84 L503.5 127.97 L504.5 127.1 L505.5 126.22 L506.5 125.35 L507.5 124.48 L508.5 123.61 L509.5 122.74 L510.5 121.87 L511.5 121 L512.5 120.12 L513.5 119.25 L514.5 118.38 L515.5 117.52 L516.5 116.65 L517.5 115.78 L518.5 114.91 L519.5 114.04 L520.5 113.17 L521.5 112.31 L522.5 111.44 L523.5 110.57 L524.5 109.71 L525.5 108.84 L526.5 107.98 L527.5 107.11 L528.5 106.25 L529.5 105.39 L530.5 104.52 L531.5 103.66 L532.5 102.8 L533.5 101.94 L534.5 101.08 L535.5 100.21 L536.5 99.35 L537.5 98.49 L538.5 97.63 L539.5 96.78 L540.5 95.92 L541.5 95.06 L542.5 94.2 L543.5 93.34 L544.5 92.49 L545.5 91.63 L546.5 90.77 L547.5 89.92 L548.5 89.06 L549.5 88.21 L550.5 87.36 L551.5 86.5 L552.5 85.65 L553.5 84.8 L554.5 83.94 L555.5 83.09 L556.5 82.24 L557.5 81.39 L558.5 80.54 L559.5 79.69 L560.5 78.84 L561.5 77.99 L562.5 77.14 L563.5 76.29 L564.5 75.44 L565.5 74.59 L566.5 73.75 L567.5 72.9 L568.5 72.05 L569.5 71.21 L570.5 70.36 L571.5 69.52 L572.5 68.67 L573.5 67.83 L574.5 66.98 L575.5 66.14 L576.5 65.29 L577.5 64.45 L578.5 63.61 L579.5 62.76 L580.5 61.92 L581.5 61.08 L582.5 60.24 L583.5 59.4 L584.5 58.55 L585.5 57.71 L586.5 56.87 L587.5 56.03 L588.5 55.19 L589.5 54.35 L590.5 53.51 L591.5 52.67 L592.5 51.83 L593.5 51 L594.5 50.16 L595.5 49.32 L596.5 48.48 L597.5 47.64 L598.5 46.81 L599.5 45.97 L600.5 45.13 L601.5 44.29 L602.5 43.46 L603.5 42.62 L604.5 41.79 L605.5 40.95 L606.5 40.11 L607.5 39.28 L608.5 38.44 L609.5 37.61 L610.5 36.77 L611.5 35.94 L612.5 35.1 L613.5 34.27 L614.5 33.44 L615.5 32.6 L616.5 31.77 L617.5 30.93 L618.5 30.1 L619.5 29.27 L620.5 28.43 L621.5 27.6 L622.5 26.77 L623.5 25.94 L624.5 25.1 L625.5 24.27" fill="none" stroke="#c8561c" stroke-width="2.0" stroke-linejoin="round"/>
<path d="M353.5 248.55 L354.5 247.73 L355.5 246.9 L356.5 246.08 L357.5 245.25 L358.5 244.43 L359.5 243.6 L360.5 242.77 L361.5 241.95 L362.5 241.12 L363.5 240.3 L364.5 239.47 L365.5 238.65 L366.5 237.82 L367.5 236.99 L368.5 236.17 L369.5 235.34 L370.5 234.52 L371.5 233.69 L372.5 232.87 L373.5 232.04 L374.5 231.21 L375.5 230.39 L376.5 229.56 L377.5 228.74 L378.5 227.91 L379.5 227.09 L380.5 226.26 L381.5 225.43 L382.5 224.61 L383.5 223.78 L384.5 222.96 L385.5 222.13 L386.5 221.31 L387.5 220.48 L388.5 219.66 L389.5 218.83 L390.5 218 L391.5 217.18 L392.5 216.35 L393.5 215.53 L394.5 214.7 L395.5 213.88 L396.5 213.05 L397.5 212.22 L398.5 211.4 L399.5 210.57 L400.5 209.75 L401.5 208.92 L402.5 208.1 L403.5 207.27 L404.5 206.44 L405.5 205.62 L406.5 204.79 L407.5 203.97 L408.5 203.14 L409.5 202.32 L410.5 201.49 L411.5 200.66 L412.5 199.84 L413.5 199.01 L414.5 198.19 L415.5 197.36 L416.5 196.54 L417.5 195.71 L418.5 194.88 L419.5 194.06 L420.5 193.23 L421.5 192.41 L422.5 191.58 L423.5 190.76 L424.5 189.93 L425.5 189.1 L426.5 188.28 L427.5 187.45 L428.5 186.63 L429.5 185.8 L430.5 184.98 L431.5 184.15 L432.5 183.33 L433.5 182.5 L434.5 181.67 L435.5 180.85 L436.5 180.02 L437.5 179.2 L438.5 178.37 L439.5 177.55 L440.5 176.72 L441.5 175.89 L442.5 175.07 L443.5 174.24 L444.5 173.42 L445.5 172.59 L446.5 171.77 L447.5 170.94 L448.5 170.11 L449.5 169.29 L450.5 168.46 L451.5 167.64 L452.5 166.81 L453.5 165.99 L454.5 165.16 L455.5 164.33 L456.5 163.51 L457.5 162.68 L458.5 161.86 L459.5 161.03 L460.5 160.21 L461.5 159.38 L462.5 158.55 L463.5 157.73 L464.5 156.9 L465.5 156.08 L466.5 155.25 L467.5 154.43 L468.5 153.6 L469.5 152.78 L470.5 151.95 L471.5 151.12 L472.5 150.3 L473.5 149.47 L474.5 148.65 L475.5 147.82 L476.5 147 L477.5 146.17 L478.5 145.34 L479.5 144.52 L480.5 143.69 L481.5 142.87 L482.5 142.04 L483.5 141.22 L484.5 140.39 L485.5 139.56 L486.5 138.74 L487.5 137.91 L488.5 137.09 L489.5 136.26 L490.5 135.44 L491.5 134.61 L492.5 133.78 L493.5 132.96 L494.5 132.13 L495.5 131.31 L496.5 130.48 L497.5 129.66 L498.5 128.83 L499.5 128 L500.5 127.18 L501.5 126.35 L502.5 125.53 L503.5 124.7 L504.5 123.88 L505.5 123.05 L506.5 122.22 L507.5 121.4 L508.5 120.57 L509.5 119.75 L510.5 118.92 L511.5 118.1 L512.5 117.27 L513.5 116.45 L514.5 115.62 L515.5 114.79 L516.5 113.97 L517.5 113.14 L518.5 112.32 L519.5 111.49 L520.5 110.67 L521.5 109.84 L522.5 109.01 L523.5 108.19 L524.5 107.36 L525.5 106.54 L526.5 105.71 L527.5 104.89 L528.5 104.06 L529.5 103.23 L530.5 102.41 L531.5 101.58 L532.5 100.76 L533.5 99.93 L534.5 99.11 L535.5 98.28 L536.5 97.45 L537.5 96.63 L538.5 95.8 L539.5 94.98 L540.5 94.15 L541.5 93.33 L542.5 92.5 L543.5 91.67 L544.5 90.85 L545.5 90.02 L546.5 89.2 L547.5 88.37 L548.5 87.55 L549.5 86.72 L550.5 85.9 L551.5 85.07 L552.5 84.24 L553.5 83.42 L554.5 82.59 L555.5 81.77 L556.5 80.94 L557.5 80.12 L558.5 79.29 L559.5 78.46 L560.5 77.64 L561.5 76.81 L562.5 75.99 L563.5 75.16 L564.5 74.34 L565.5 73.51 L566.5 72.68 L567.5 71.86 L568.5 71.03 L569.5 70.21 L570.5 69.38 L571.5 68.56 L572.5 67.73 L573.5 66.9 L574.5 66.08 L575.5 65.25 L576.5 64.43 L577.5 63.6 L578.5 62.78 L579.5 61.95 L580.5 61.12 L581.5 60.3 L582.5 59.47 L583.5 58.65 L584.5 57.82 L585.5 57 L586.5 56.17 L587.5 55.34 L588.5 54.52 L589.5 53.69 L590.5 52.87 L591.5 52.04 L592.5 51.22 L593.5 50.39 L594.5 49.57 L595.5 48.74 L596.5 47.91 L597.5 47.09 L598.5 46.26 L599.5 45.44 L600.5 44.61 L601.5 43.79 L602.5 42.96 L603.5 42.13 L604.5 41.31 L605.5 40.48 L606.5 39.66 L607.5 38.83 L608.5 38.01 L609.5 37.18 L610.5 36.35 L611.5 35.53 L612.5 34.7 L613.5 33.88 L614.5 33.05 L615.5 32.23 L616.5 31.4 L617.5 30.57 L618.5 29.75 L619.5 28.92 L620.5 28.1 L621.5 27.27 L622.5 26.45 L623.5 25.62 L624.5 24.79 L625.5 23.97" fill="none" stroke="#43168a" stroke-width="2.0" stroke-dasharray="7.5 5" stroke-linejoin="round" stroke-dashoffset="5"/>
<rect x="386.7" y="226.7" width="3.6" height="3.6" fill="#d42624"/>
<rect x="404.4" y="204.9" width="3.6" height="3.6" fill="#d42624"/>
<rect x="417.1" y="193.2" width="3.6" height="3.6" fill="#d42624"/>
<rect x="427.3" y="189.4" width="3.6" height="3.6" fill="#d42624"/>
<rect x="435.4" y="183.6" width="3.6" height="3.6" fill="#d42624"/>
<rect x="442" y="176.2" width="3.6" height="3.6" fill="#d42624"/>
<rect x="447.6" y="169.9" width="3.6" height="3.6" fill="#d42624"/>
<rect x="452.6" y="166.6" width="3.6" height="3.6" fill="#d42624"/>
<rect x="457.2" y="169.1" width="3.6" height="3.6" fill="#d42624"/>
<rect x="465.3" y="159" width="3.6" height="3.6" fill="#d42624"/>
<rect x="469.2" y="155.9" width="3.6" height="3.6" fill="#d42624"/>
<rect x="472.4" y="154.4" width="3.6" height="3.6" fill="#d42624"/>
<rect x="478" y="150.1" width="3.6" height="3.6" fill="#d42624"/>
<rect x="481.1" y="144.2" width="3.6" height="3.6" fill="#d42624"/>
<rect x="483.9" y="139.2" width="3.6" height="3.6" fill="#d42624"/>
<rect x="486.9" y="138.2" width="3.6" height="3.6" fill="#d42624"/>
<rect x="488.2" y="137.7" width="3.6" height="3.6" fill="#d42624"/>
<rect x="492.7" y="134.7" width="3.6" height="3.6" fill="#d42624"/>
<rect x="496.2" y="128.2" width="3.6" height="3.6" fill="#d42624"/>
<rect x="499.45" y="126.45" width="3.6" height="3.6" fill="#d42624"/>
<rect x="505.7" y="120.7" width="3.6" height="3.6" fill="#d42624"/>
<rect x="518.7" y="113.2" width="3.6" height="3.6" fill="#d42624"/>
<rect x="528.2" y="104.7" width="3.6" height="3.6" fill="#d42624"/>
<rect x="535.7" y="98.2" width="3.6" height="3.6" fill="#d42624"/>
<rect x="543.2" y="90.7" width="3.6" height="3.6" fill="#d42624"/>
<rect x="548.7" y="85.95" width="3.6" height="3.6" fill="#d42624"/>
<rect x="554.45" y="79.7" width="3.6" height="3.6" fill="#d42624"/>
<rect x="558.2" y="76.45" width="3.6" height="3.6" fill="#d42624"/>
<rect x="566.95" y="69.7" width="3.6" height="3.6" fill="#d42624"/>
<rect x="573.7" y="64.7" width="3.6" height="3.6" fill="#d42624"/>
<rect x="579.45" y="61.7" width="3.6" height="3.6" fill="#d42624"/>
</g>
<line x1="488.1" y1="27.3" x2="488.1" y2="460.4" stroke="#c98462" stroke-width="1.8" stroke-dasharray="4.1 3.84"/>
<rect x="358.5" y="27.3" width="262.9" height="433.1" fill="none" stroke="#2e2e2e" stroke-width="1.5"/>
<line x1="358.5" y1="243.75" x2="621.4" y2="243.75" stroke="#2e2e2e" stroke-width="1.5"/>
<line x1="366.29" y1="27.3" x2="366.29" y2="29.3" stroke="#2e2e2e" stroke-width="1.5"/>
<line x1="366.29" y1="243.75" x2="366.29" y2="241.75" stroke="#2e2e2e" stroke-width="1.5"/>
<line x1="366.29" y1="243.75" x2="366.29" y2="245.75" stroke="#2e2e2e" stroke-width="1.5"/>
<line x1="366.29" y1="460.4" x2="366.29" y2="458.4" stroke="#2e2e2e" stroke-width="1.5"/>
<line x1="373.07" y1="27.3" x2="373.07" y2="29.3" stroke="#2e2e2e" stroke-width="1.5"/>
<line x1="373.07" y1="243.75" x2="373.07" y2="241.75" stroke="#2e2e2e" stroke-width="1.5"/>
<line x1="373.07" y1="243.75" x2="373.07" y2="245.75" stroke="#2e2e2e" stroke-width="1.5"/>
<line x1="373.07" y1="460.4" x2="373.07" y2="458.4" stroke="#2e2e2e" stroke-width="1.5"/>
<line x1="378.94" y1="27.3" x2="378.94" y2="29.3" stroke="#2e2e2e" stroke-width="1.5"/>
<line x1="378.94" y1="243.75" x2="378.94" y2="241.75" stroke="#2e2e2e" stroke-width="1.5"/>
<line x1="378.94" y1="243.75" x2="378.94" y2="245.75" stroke="#2e2e2e" stroke-width="1.5"/>
<line x1="378.94" y1="460.4" x2="378.94" y2="458.4" stroke="#2e2e2e" stroke-width="1.5"/>
<line x1="384.12" y1="27.3" x2="384.12" y2="29.3" stroke="#2e2e2e" stroke-width="1.5"/>
<line x1="384.12" y1="243.75" x2="384.12" y2="241.75" stroke="#2e2e2e" stroke-width="1.5"/>
<line x1="384.12" y1="243.75" x2="384.12" y2="245.75" stroke="#2e2e2e" stroke-width="1.5"/>
<line x1="384.12" y1="460.4" x2="384.12" y2="458.4" stroke="#2e2e2e" stroke-width="1.5"/>
<line x1="388.75" y1="27.3" x2="388.75" y2="30.5" stroke="#2e2e2e" stroke-width="1.5"/>
<line x1="388.75" y1="243.75" x2="388.75" y2="240.55" stroke="#2e2e2e" stroke-width="1.5"/>
<line x1="388.75" y1="243.75" x2="388.75" y2="246.95" stroke="#2e2e2e" stroke-width="1.5"/>
<line x1="388.75" y1="460.4" x2="388.75" y2="457.2" stroke="#2e2e2e" stroke-width="1.5"/>
<line x1="419.23" y1="27.3" x2="419.23" y2="29.3" stroke="#2e2e2e" stroke-width="1.5"/>
<line x1="419.23" y1="243.75" x2="419.23" y2="241.75" stroke="#2e2e2e" stroke-width="1.5"/>
<line x1="419.23" y1="243.75" x2="419.23" y2="245.75" stroke="#2e2e2e" stroke-width="1.5"/>
<line x1="419.23" y1="460.4" x2="419.23" y2="458.4" stroke="#2e2e2e" stroke-width="1.5"/>
<line x1="437.06" y1="27.3" x2="437.06" y2="29.3" stroke="#2e2e2e" stroke-width="1.5"/>
<line x1="437.06" y1="243.75" x2="437.06" y2="241.75" stroke="#2e2e2e" stroke-width="1.5"/>
<line x1="437.06" y1="243.75" x2="437.06" y2="245.75" stroke="#2e2e2e" stroke-width="1.5"/>
<line x1="437.06" y1="460.4" x2="437.06" y2="458.4" stroke="#2e2e2e" stroke-width="1.5"/>
<line x1="449.71" y1="27.3" x2="449.71" y2="29.3" stroke="#2e2e2e" stroke-width="1.5"/>
<line x1="449.71" y1="243.75" x2="449.71" y2="241.75" stroke="#2e2e2e" stroke-width="1.5"/>
<line x1="449.71" y1="243.75" x2="449.71" y2="245.75" stroke="#2e2e2e" stroke-width="1.5"/>
<line x1="449.71" y1="460.4" x2="449.71" y2="458.4" stroke="#2e2e2e" stroke-width="1.5"/>
<line x1="459.52" y1="27.3" x2="459.52" y2="29.3" stroke="#2e2e2e" stroke-width="1.5"/>
<line x1="459.52" y1="243.75" x2="459.52" y2="241.75" stroke="#2e2e2e" stroke-width="1.5"/>
<line x1="459.52" y1="243.75" x2="459.52" y2="245.75" stroke="#2e2e2e" stroke-width="1.5"/>
<line x1="459.52" y1="460.4" x2="459.52" y2="458.4" stroke="#2e2e2e" stroke-width="1.5"/>
<line x1="467.54" y1="27.3" x2="467.54" y2="29.3" stroke="#2e2e2e" stroke-width="1.5"/>
<line x1="467.54" y1="243.75" x2="467.54" y2="241.75" stroke="#2e2e2e" stroke-width="1.5"/>
<line x1="467.54" y1="243.75" x2="467.54" y2="245.75" stroke="#2e2e2e" stroke-width="1.5"/>
<line x1="467.54" y1="460.4" x2="467.54" y2="458.4" stroke="#2e2e2e" stroke-width="1.5"/>
<line x1="474.32" y1="27.3" x2="474.32" y2="29.3" stroke="#2e2e2e" stroke-width="1.5"/>
<line x1="474.32" y1="243.75" x2="474.32" y2="241.75" stroke="#2e2e2e" stroke-width="1.5"/>
<line x1="474.32" y1="243.75" x2="474.32" y2="245.75" stroke="#2e2e2e" stroke-width="1.5"/>
<line x1="474.32" y1="460.4" x2="474.32" y2="458.4" stroke="#2e2e2e" stroke-width="1.5"/>
<line x1="480.19" y1="27.3" x2="480.19" y2="29.3" stroke="#2e2e2e" stroke-width="1.5"/>
<line x1="480.19" y1="243.75" x2="480.19" y2="241.75" stroke="#2e2e2e" stroke-width="1.5"/>
<line x1="480.19" y1="243.75" x2="480.19" y2="245.75" stroke="#2e2e2e" stroke-width="1.5"/>
<line x1="480.19" y1="460.4" x2="480.19" y2="458.4" stroke="#2e2e2e" stroke-width="1.5"/>
<line x1="485.37" y1="27.3" x2="485.37" y2="29.3" stroke="#2e2e2e" stroke-width="1.5"/>
<line x1="485.37" y1="243.75" x2="485.37" y2="241.75" stroke="#2e2e2e" stroke-width="1.5"/>
<line x1="485.37" y1="243.75" x2="485.37" y2="245.75" stroke="#2e2e2e" stroke-width="1.5"/>
<line x1="485.37" y1="460.4" x2="485.37" y2="458.4" stroke="#2e2e2e" stroke-width="1.5"/>
<line x1="490" y1="27.3" x2="490" y2="30.5" stroke="#2e2e2e" stroke-width="1.5"/>
<line x1="490" y1="243.75" x2="490" y2="240.55" stroke="#2e2e2e" stroke-width="1.5"/>
<line x1="490" y1="243.75" x2="490" y2="246.95" stroke="#2e2e2e" stroke-width="1.5"/>
<line x1="490" y1="460.4" x2="490" y2="457.2" stroke="#2e2e2e" stroke-width="1.5"/>
<line x1="520.48" y1="27.3" x2="520.48" y2="29.3" stroke="#2e2e2e" stroke-width="1.5"/>
<line x1="520.48" y1="243.75" x2="520.48" y2="241.75" stroke="#2e2e2e" stroke-width="1.5"/>
<line x1="520.48" y1="243.75" x2="520.48" y2="245.75" stroke="#2e2e2e" stroke-width="1.5"/>
<line x1="520.48" y1="460.4" x2="520.48" y2="458.4" stroke="#2e2e2e" stroke-width="1.5"/>
<line x1="538.31" y1="27.3" x2="538.31" y2="29.3" stroke="#2e2e2e" stroke-width="1.5"/>
<line x1="538.31" y1="243.75" x2="538.31" y2="241.75" stroke="#2e2e2e" stroke-width="1.5"/>
<line x1="538.31" y1="243.75" x2="538.31" y2="245.75" stroke="#2e2e2e" stroke-width="1.5"/>
<line x1="538.31" y1="460.4" x2="538.31" y2="458.4" stroke="#2e2e2e" stroke-width="1.5"/>
<line x1="550.96" y1="27.3" x2="550.96" y2="29.3" stroke="#2e2e2e" stroke-width="1.5"/>
<line x1="550.96" y1="243.75" x2="550.96" y2="241.75" stroke="#2e2e2e" stroke-width="1.5"/>
<line x1="550.96" y1="243.75" x2="550.96" y2="245.75" stroke="#2e2e2e" stroke-width="1.5"/>
<line x1="550.96" y1="460.4" x2="550.96" y2="458.4" stroke="#2e2e2e" stroke-width="1.5"/>
<line x1="560.77" y1="27.3" x2="560.77" y2="29.3" stroke="#2e2e2e" stroke-width="1.5"/>
<line x1="560.77" y1="243.75" x2="560.77" y2="241.75" stroke="#2e2e2e" stroke-width="1.5"/>
<line x1="560.77" y1="243.75" x2="560.77" y2="245.75" stroke="#2e2e2e" stroke-width="1.5"/>
<line x1="560.77" y1="460.4" x2="560.77" y2="458.4" stroke="#2e2e2e" stroke-width="1.5"/>
<line x1="568.79" y1="27.3" x2="568.79" y2="29.3" stroke="#2e2e2e" stroke-width="1.5"/>
<line x1="568.79" y1="243.75" x2="568.79" y2="241.75" stroke="#2e2e2e" stroke-width="1.5"/>
<line x1="568.79" y1="243.75" x2="568.79" y2="245.75" stroke="#2e2e2e" stroke-width="1.5"/>
<line x1="568.79" y1="460.4" x2="568.79" y2="458.4" stroke="#2e2e2e" stroke-width="1.5"/>
<line x1="575.57" y1="27.3" x2="575.57" y2="29.3" stroke="#2e2e2e" stroke-width="1.5"/>
<line x1="575.57" y1="243.75" x2="575.57" y2="241.75" stroke="#2e2e2e" stroke-width="1.5"/>
<line x1="575.57" y1="243.75" x2="575.57" y2="245.75" stroke="#2e2e2e" stroke-width="1.5"/>
<line x1="575.57" y1="460.4" x2="575.57" y2="458.4" stroke="#2e2e2e" stroke-width="1.5"/>
<line x1="581.44" y1="27.3" x2="581.44" y2="29.3" stroke="#2e2e2e" stroke-width="1.5"/>
<line x1="581.44" y1="243.75" x2="581.44" y2="241.75" stroke="#2e2e2e" stroke-width="1.5"/>
<line x1="581.44" y1="243.75" x2="581.44" y2="245.75" stroke="#2e2e2e" stroke-width="1.5"/>
<line x1="581.44" y1="460.4" x2="581.44" y2="458.4" stroke="#2e2e2e" stroke-width="1.5"/>
<line x1="586.62" y1="27.3" x2="586.62" y2="29.3" stroke="#2e2e2e" stroke-width="1.5"/>
<line x1="586.62" y1="243.75" x2="586.62" y2="241.75" stroke="#2e2e2e" stroke-width="1.5"/>
<line x1="586.62" y1="243.75" x2="586.62" y2="245.75" stroke="#2e2e2e" stroke-width="1.5"/>
<line x1="586.62" y1="460.4" x2="586.62" y2="458.4" stroke="#2e2e2e" stroke-width="1.5"/>
<line x1="591.25" y1="27.3" x2="591.25" y2="30.5" stroke="#2e2e2e" stroke-width="1.5"/>
<line x1="591.25" y1="243.75" x2="591.25" y2="240.55" stroke="#2e2e2e" stroke-width="1.5"/>
<line x1="591.25" y1="243.75" x2="591.25" y2="246.95" stroke="#2e2e2e" stroke-width="1.5"/>
<line x1="591.25" y1="460.4" x2="591.25" y2="457.2" stroke="#2e2e2e" stroke-width="1.5"/>
<line x1="358.5" y1="242.03" x2="360.5" y2="242.03" stroke="#2e2e2e" stroke-width="1.5"/>
<line x1="621.4" y1="242.03" x2="619.4" y2="242.03" stroke="#2e2e2e" stroke-width="1.5"/>
<line x1="358.5" y1="238.2" x2="361.7" y2="238.2" stroke="#2e2e2e" stroke-width="1.5"/>
<line x1="621.4" y1="238.2" x2="618.2" y2="238.2" stroke="#2e2e2e" stroke-width="1.5"/>
<line x1="358.5" y1="213.03" x2="360.5" y2="213.03" stroke="#2e2e2e" stroke-width="1.5"/>
<line x1="621.4" y1="213.03" x2="619.4" y2="213.03" stroke="#2e2e2e" stroke-width="1.5"/>
<line x1="358.5" y1="198.31" x2="360.5" y2="198.31" stroke="#2e2e2e" stroke-width="1.5"/>
<line x1="621.4" y1="198.31" x2="619.4" y2="198.31" stroke="#2e2e2e" stroke-width="1.5"/>
<line x1="358.5" y1="187.87" x2="360.5" y2="187.87" stroke="#2e2e2e" stroke-width="1.5"/>
<line x1="621.4" y1="187.87" x2="619.4" y2="187.87" stroke="#2e2e2e" stroke-width="1.5"/>
<line x1="358.5" y1="179.77" x2="360.5" y2="179.77" stroke="#2e2e2e" stroke-width="1.5"/>
<line x1="621.4" y1="179.77" x2="619.4" y2="179.77" stroke="#2e2e2e" stroke-width="1.5"/>
<line x1="358.5" y1="173.15" x2="360.5" y2="173.15" stroke="#2e2e2e" stroke-width="1.5"/>
<line x1="621.4" y1="173.15" x2="619.4" y2="173.15" stroke="#2e2e2e" stroke-width="1.5"/>
<line x1="358.5" y1="167.55" x2="360.5" y2="167.55" stroke="#2e2e2e" stroke-width="1.5"/>
<line x1="621.4" y1="167.55" x2="619.4" y2="167.55" stroke="#2e2e2e" stroke-width="1.5"/>
<line x1="358.5" y1="162.7" x2="360.5" y2="162.7" stroke="#2e2e2e" stroke-width="1.5"/>
<line x1="621.4" y1="162.7" x2="619.4" y2="162.7" stroke="#2e2e2e" stroke-width="1.5"/>
<line x1="358.5" y1="158.43" x2="360.5" y2="158.43" stroke="#2e2e2e" stroke-width="1.5"/>
<line x1="621.4" y1="158.43" x2="619.4" y2="158.43" stroke="#2e2e2e" stroke-width="1.5"/>
<line x1="358.5" y1="154.6" x2="361.7" y2="154.6" stroke="#2e2e2e" stroke-width="1.5"/>
<line x1="621.4" y1="154.6" x2="618.2" y2="154.6" stroke="#2e2e2e" stroke-width="1.5"/>
<line x1="358.5" y1="129.43" x2="360.5" y2="129.43" stroke="#2e2e2e" stroke-width="1.5"/>
<line x1="621.4" y1="129.43" x2="619.4" y2="129.43" stroke="#2e2e2e" stroke-width="1.5"/>
<line x1="358.5" y1="114.71" x2="360.5" y2="114.71" stroke="#2e2e2e" stroke-width="1.5"/>
<line x1="621.4" y1="114.71" x2="619.4" y2="114.71" stroke="#2e2e2e" stroke-width="1.5"/>
<line x1="358.5" y1="104.27" x2="360.5" y2="104.27" stroke="#2e2e2e" stroke-width="1.5"/>
<line x1="621.4" y1="104.27" x2="619.4" y2="104.27" stroke="#2e2e2e" stroke-width="1.5"/>
<line x1="358.5" y1="96.17" x2="360.5" y2="96.17" stroke="#2e2e2e" stroke-width="1.5"/>
<line x1="621.4" y1="96.17" x2="619.4" y2="96.17" stroke="#2e2e2e" stroke-width="1.5"/>
<line x1="358.5" y1="89.55" x2="360.5" y2="89.55" stroke="#2e2e2e" stroke-width="1.5"/>
<line x1="621.4" y1="89.55" x2="619.4" y2="89.55" stroke="#2e2e2e" stroke-width="1.5"/>
<line x1="358.5" y1="83.95" x2="360.5" y2="83.95" stroke="#2e2e2e" stroke-width="1.5"/>
<line x1="621.4" y1="83.95" x2="619.4" y2="83.95" stroke="#2e2e2e" stroke-width="1.5"/>
<line x1="358.5" y1="79.1" x2="360.5" y2="79.1" stroke="#2e2e2e" stroke-width="1.5"/>
<line x1="621.4" y1="79.1" x2="619.4" y2="79.1" stroke="#2e2e2e" stroke-width="1.5"/>
<line x1="358.5" y1="74.83" x2="360.5" y2="74.83" stroke="#2e2e2e" stroke-width="1.5"/>
<line x1="621.4" y1="74.83" x2="619.4" y2="74.83" stroke="#2e2e2e" stroke-width="1.5"/>
<line x1="358.5" y1="71" x2="361.7" y2="71" stroke="#2e2e2e" stroke-width="1.5"/>
<line x1="621.4" y1="71" x2="618.2" y2="71" stroke="#2e2e2e" stroke-width="1.5"/>
<line x1="358.5" y1="45.83" x2="360.5" y2="45.83" stroke="#2e2e2e" stroke-width="1.5"/>
<line x1="621.4" y1="45.83" x2="619.4" y2="45.83" stroke="#2e2e2e" stroke-width="1.5"/>
<line x1="358.5" y1="31.11" x2="360.5" y2="31.11" stroke="#2e2e2e" stroke-width="1.5"/>
<line x1="621.4" y1="31.11" x2="619.4" y2="31.11" stroke="#2e2e2e" stroke-width="1.5"/>
<line x1="358.5" y1="250.9" x2="361.7" y2="250.9" stroke="#2e2e2e" stroke-width="1.5"/>
<line x1="621.4" y1="250.9" x2="618.2" y2="250.9" stroke="#2e2e2e" stroke-width="1.5"/>
<line x1="358.5" y1="284.83" x2="361.7" y2="284.83" stroke="#2e2e2e" stroke-width="1.5"/>
<line x1="621.4" y1="284.83" x2="618.2" y2="284.83" stroke="#2e2e2e" stroke-width="1.5"/>
<line x1="358.5" y1="318.75" x2="361.7" y2="318.75" stroke="#2e2e2e" stroke-width="1.5"/>
<line x1="621.4" y1="318.75" x2="618.2" y2="318.75" stroke="#2e2e2e" stroke-width="1.5"/>
<line x1="358.5" y1="352.68" x2="361.7" y2="352.68" stroke="#2e2e2e" stroke-width="1.5"/>
<line x1="621.4" y1="352.68" x2="618.2" y2="352.68" stroke="#2e2e2e" stroke-width="1.5"/>
<line x1="358.5" y1="386.6" x2="361.7" y2="386.6" stroke="#2e2e2e" stroke-width="1.5"/>
<line x1="621.4" y1="386.6" x2="618.2" y2="386.6" stroke="#2e2e2e" stroke-width="1.5"/>
<line x1="358.5" y1="420.52" x2="361.7" y2="420.52" stroke="#2e2e2e" stroke-width="1.5"/>
<line x1="621.4" y1="420.52" x2="618.2" y2="420.52" stroke="#2e2e2e" stroke-width="1.5"/>
<line x1="358.5" y1="454.45" x2="361.7" y2="454.45" stroke="#2e2e2e" stroke-width="1.5"/>
<line x1="621.4" y1="454.45" x2="618.2" y2="454.45" stroke="#2e2e2e" stroke-width="1.5"/>
<circle cx="388.75" cy="270" r="2.6" fill="#d0262a"/>
<circle cx="406.75" cy="301" r="2.6" fill="#d0262a"/>
<circle cx="419.25" cy="335.1" r="2.6" fill="#d0262a"/>
<circle cx="429" cy="356" r="2.6" fill="#d0262a"/>
<circle cx="436.75" cy="382" r="2.6" fill="#d0262a"/>
<circle cx="443.75" cy="390" r="2.6" fill="#d0262a"/>
<circle cx="449.5" cy="395" r="2.6" fill="#d0262a"/>
<circle cx="454.5" cy="395.75" r="2.6" fill="#d0262a"/>
<circle cx="459.25" cy="398" r="2.6" fill="#d0262a"/>
<circle cx="467.5" cy="394.5" r="2.6" fill="#d0262a"/>
<circle cx="470.75" cy="384.5" r="2.6" fill="#d0262a"/>
<circle cx="474.25" cy="389.25" r="2.6" fill="#d0262a"/>
<circle cx="480" cy="375.5" r="2.6" fill="#d0262a"/>
<circle cx="482.5" cy="371.25" r="2.6" fill="#d0262a"/>
<circle cx="485.5" cy="367.5" r="2.6" fill="#d0262a"/>
<circle cx="490" cy="372.5" r="2.6" fill="#d0262a"/>
<circle cx="494" cy="359.5" r="2.6" fill="#d0262a"/>
<circle cx="497.75" cy="355" r="2.6" fill="#d0262a"/>
<circle cx="501.5" cy="368.3" r="2.6" fill="#d0262a"/>
<circle cx="508" cy="372.5" r="2.6" fill="#d0262a"/>
<circle cx="520.5" cy="390" r="2.6" fill="#d0262a"/>
<circle cx="530.2" cy="390.5" r="2.6" fill="#d0262a"/>
<circle cx="538.2" cy="395.2" r="2.6" fill="#d0262a"/>
<circle cx="545" cy="404.3" r="2.6" fill="#d0262a"/>
<circle cx="551.1" cy="398.6" r="2.6" fill="#d0262a"/>
<circle cx="555.7" cy="408.2" r="2.6" fill="#d0262a"/>
<circle cx="560.7" cy="412.7" r="2.6" fill="#d0262a"/>
<circle cx="568.6" cy="401.4" r="2.6" fill="#d0262a"/>
<circle cx="575.7" cy="408.6" r="2.6" fill="#d0262a"/>
<circle cx="581.4" cy="427.7" r="2.6" fill="#d0262a"/>
<text x="628.5" y="76.7" font-size="12" text-anchor="start" fill="#1a1a1a">10<tspan font-size="9.5" dy="-4.7">1</tspan></text>
<text x="628.5" y="155.2" font-size="12" text-anchor="start" fill="#1a1a1a">10<tspan font-size="9.5" dy="-4.7">0</tspan></text>
<text x="628.5" y="244.6" font-size="12" text-anchor="start" fill="#1a1a1a">10<tspan font-size="9.5" dy="-4.7">−1</tspan></text>
<text x="626" y="256.8" font-size="12" text-anchor="start" fill="#1a1a1a">0.14</text>
<text x="626" y="323.15" font-size="12" text-anchor="start" fill="#1a1a1a">0.13</text>
<text x="626" y="391" font-size="12" text-anchor="start" fill="#1a1a1a">0.12</text>
<text x="626" y="458.85" font-size="12" text-anchor="start" fill="#1a1a1a">0.11</text>
<text x="389.35" y="478.1" font-size="12" text-anchor="middle" fill="#1a1a1a">10<tspan font-size="9.5" dy="-4.7">−1</tspan></text>
<text x="490.6" y="478.1" font-size="12" text-anchor="middle" fill="#1a1a1a">10<tspan font-size="9.5" dy="-4.7">0</tspan></text>
<text x="591.85" y="478.1" font-size="12" text-anchor="middle" fill="#1a1a1a">10<tspan font-size="9.5" dy="-4.7">1</tspan></text>
<text x="488.6" y="497.2" font-size="12.6" text-anchor="middle" fill="#1a1a1a">Pump power (μW)</text>
<text x="0" y="0" font-size="12.6" text-anchor="middle" fill="#1a1a1a" transform="translate(672 136.4) rotate(-90)">Output intensity (a.u.)</text>
<text x="0" y="0" font-size="12.6" text-anchor="middle" fill="#1a1a1a" transform="translate(672 353.3) rotate(-90)">Linewidth (nm)</text>
<text x="365.3" y="53.8" font-size="21" font-weight="bold" fill="#111">b</text>
<text x="365.8" y="267" font-size="21" font-weight="bold" fill="#111">c</text>
<text x="395" y="67.9" font-size="12" fill="#5a2d8e"><tspan font-family="Liberation Serif" font-style="italic" font-size="13">β</tspan> = 1</text>
<text x="418.5" y="84.2" font-size="12" text-anchor="start" fill="#b5552a">0.81</text>
<text x="418.5" y="98" font-size="12" text-anchor="start" fill="#f0b43c">0.4</text>
<text x="418.5" y="112" font-size="12" text-anchor="start" fill="#238a4a">0.2</text>
<g clip-path="url(#cd)">
<rect x="64.75" y="459.25" width="3.3" height="3.3" fill="#c91f2e"/>
<rect x="85.45" y="460.45" width="3.3" height="3.3" fill="#c91f2e"/>
<rect x="100.25" y="461.95" width="3.3" height="3.3" fill="#c91f2e"/>
<rect x="111.45" y="464.85" width="3.3" height="3.3" fill="#c91f2e"/>
<rect x="120.85" y="465.85" width="3.3" height="3.3" fill="#c91f2e"/>
<rect x="128.25" y="464.15" width="3.3" height="3.3" fill="#c91f2e"/>
<rect x="135.05" y="461.75" width="3.3" height="3.3" fill="#c91f2e"/>
<rect x="140.95" y="461.75" width="3.3" height="3.3" fill="#c91f2e"/>
<rect x="146.85" y="470.75" width="3.3" height="3.3" fill="#c91f2e"/>
<rect x="156.05" y="465.25" width="3.3" height="3.3" fill="#c91f2e"/>
<rect x="160.55" y="465.25" width="3.3" height="3.3" fill="#c91f2e"/>
<rect x="163.85" y="468.25" width="3.3" height="3.3" fill="#c91f2e"/>
<rect x="170.65" y="469.55" width="3.3" height="3.3" fill="#c91f2e"/>
<rect x="173.95" y="459.95" width="3.3" height="3.3" fill="#c91f2e"/>
<rect x="176.55" y="451.95" width="3.3" height="3.3" fill="#c91f2e"/>
<rect x="181.85" y="457.85" width="3.3" height="3.3" fill="#c91f2e"/>
<rect x="186.65" y="456.15" width="3.3" height="3.3" fill="#c91f2e"/>
<rect x="190.65" y="445.55" width="3.3" height="3.3" fill="#c91f2e"/>
<rect x="195.25" y="446.05" width="3.3" height="3.3" fill="#c91f2e"/>
<rect x="202.25" y="443.25" width="3.3" height="3.3" fill="#c91f2e"/>
<rect x="217.05" y="452.45" width="3.3" height="3.3" fill="#c91f2e"/>
<rect x="228.45" y="443.25" width="3.3" height="3.3" fill="#c91f2e"/>
<rect x="237.75" y="445.75" width="3.3" height="3.3" fill="#c91f2e"/>
<rect x="245.75" y="418.15" width="3.3" height="3.3" fill="#c91f2e"/>
<rect x="252.55" y="423.85" width="3.3" height="3.3" fill="#c91f2e"/>
<rect x="258.55" y="381.05" width="3.3" height="3.3" fill="#c91f2e"/>
<rect x="263.85" y="371.6" width="3.3" height="3.3" fill="#c91f2e"/>
<rect x="273.15" y="348.65" width="3.3" height="3.3" fill="#c91f2e"/>
<rect x="280.65" y="341.75" width="3.3" height="3.3" fill="#c91f2e"/>
<rect x="287.65" y="376.75" width="3.3" height="3.3" fill="#c91f2e"/>
<path d="M194.8 463.14 L195.2 463.1 L195.6 463.06 L196 463.02 L196.4 462.98 L196.8 462.93 L197.2 462.89 L197.6 462.84 L198 462.79 L198.4 462.75 L198.8 462.7 L199.2 462.65 L199.6 462.6 L200 462.55 L200.4 462.49 L200.8 462.44 L201.2 462.39 L201.6 462.33 L202 462.27 L202.4 462.22 L202.8 462.16 L203.2 462.1 L203.6 462.04 L204 461.98 L204.4 461.92 L204.8 461.85 L205.2 461.79 L205.6 461.72 L206 461.66 L206.4 461.59 L206.8 461.52 L207.2 461.45 L207.6 461.38 L208 461.31 L208.4 461.24 L208.8 461.16 L209.2 461.09 L209.6 461.01 L210 460.94 L210.4 460.86 L210.8 460.78 L211.2 460.7 L211.6 460.62 L212 460.54 L212.4 460.45 L212.8 460.37 L213.2 460.28 L213.6 460.2 L214 460.11 L214.4 460.02 L214.8 459.93 L215.2 459.84 L215.6 459.75 L216 459.66 L216.4 459.57 L216.75 459.48" fill="none" stroke="#1f6cb0" stroke-width="1.9" stroke-linejoin="round" stroke-linecap="butt"/>
<path d="M240 452.15 L240.4 451.99 L240.8 451.82 L241.2 451.66 L241.6 451.49 L242 451.33 L242.4 451.16 L242.8 450.99 L243.2 450.82 L243.6 450.65 L244 450.47 L244.4 450.3 L244.8 450.12 L245.2 449.94 L245.6 449.77 L246 449.58 L246.4 449.4 L246.8 449.22 L247.2 449.03 L247.6 448.85 L248 448.66 L248.4 448.47 L248.8 448.28 L249.2 448.08 L249.6 447.89 L250 447.69 L250.4 447.49 L250.8 447.3 L251.2 447.09 L251.6 446.89 L252 446.69 L252.4 446.48 L252.8 446.27 L253.2 446.06 L253.6 445.85 L254 445.64 L254.4 445.42 L254.8 445.21 L255.2 444.99 L255.6 444.77 L256 444.55 L256.4 444.32 L256.8 444.1 L257.2 443.87 L257.6 443.64 L258 443.41 L258.4 443.17 L258.8 442.94 L259.2 442.7 L259.6 442.46 L260 442.22" fill="none" stroke="#1f6cb0" stroke-width="1.9" stroke-linejoin="round" stroke-linecap="butt"/>
<path d="M279.1 428.01 L279.5 427.65 L279.9 427.28 L280.3 426.91 L280.7 426.54 L281.1 426.17 L281.5 425.79 L281.9 425.41 L282.3 425.02 L282.7 424.63 L283.1 424.24 L283.5 423.85 L283.9 423.45 L284.3 423.05 L284.7 422.64 L285.1 422.23 L285.5 421.82 L285.9 421.4 L286.3 420.98 L286.7 420.56 L287.1 420.14 L287.5 419.71 L287.9 419.27 L288.3 418.83 L288.7 418.39 L289.1 417.95 L289.5 417.5 L289.9 417.05 L290.3 416.59 L290.7 416.13 L291.1 415.66 L291.5 415.19 L291.9 414.72 L292.3 414.25 L292.7 413.76 L293.1 413.28 L293.5 412.79 L293.9 412.3 L294.2 411.92" fill="none" stroke="#1f6cb0" stroke-width="1.9" stroke-linejoin="round" stroke-linecap="butt"/>
<path d="M307.9 392.01 L308.3 391.33 L308.7 390.65 L309.1 389.96 L309.5 389.27 L309.9 388.57 L310.3 387.86 L310.7 387.15 L311.1 386.43 L311.5 385.7 L311.9 384.97 L312.3 384.23 L312.7 383.48 L313.1 382.73 L313.5 381.97 L313.9 381.2 L314.3 380.43 L314.7 379.65 L315.1 378.86 L315.5 378.07 L315.9 377.27 L316.3 376.46 L316.7 375.64 L317.1 374.82 L317.5 373.99 L317.9 373.15 L318.3 372.3 L318.7 371.45 L319.1 370.59 L319.5 369.72 L319.9 368.84 L320 368.62" fill="none" stroke="#1f6cb0" stroke-width="1.9" stroke-linejoin="round" stroke-linecap="butt"/>
<path d="M195.3 457.22 L195.7 457.08 L196.1 456.94 L196.5 456.79 L196.9 456.64 L197.3 456.48 L197.7 456.33 L198.1 456.17 L198.5 456 L198.9 455.83 L199.3 455.66 L199.7 455.48 L200.1 455.3 L200.5 455.12 L200.9 454.93 L201.3 454.73 L201.7 454.53 L202.1 454.33 L202.5 454.12 L202.9 453.91 L203.3 453.69 L203.7 453.47 L204.1 453.25 L204.5 453.01 L204.9 452.78 L205.3 452.53 L205.7 452.28 L206.1 452.03 L206.5 451.77 L206.9 451.5 L207.3 451.23 L207.7 450.96 L208.1 450.67 L208.5 450.38 L208.9 450.08 L209.3 449.78 L209.7 449.47 L210.1 449.15 L210.5 448.82 L210.9 448.49 L211.3 448.15 L211.7 447.79 L212.1 447.43 L212.5 447.06 L212.7 446.88" fill="none" stroke="#6a9a2c" stroke-width="1.9" stroke-linejoin="round" stroke-linecap="butt"/>
<path d="M227.4 425.78 L227.8 424.98 L228.2 424.16 L228.6 423.33 L229 422.49 L229.4 421.63 L229.8 420.75 L230.2 419.87 L230.6 418.97 L231 418.05 L231.4 417.12 L231.8 416.18 L232.2 415.22 L232.6 414.25 L233 413.26 L233.4 412.26 L233.8 411.24 L234.2 410.21 L234.6 409.17 L235 408.11 L235.4 407.03 L235.8 405.94 L235.9 405.67" fill="none" stroke="#6a9a2c" stroke-width="1.9" stroke-linejoin="round" stroke-linecap="butt"/>
<path d="M243.3 382.59 L243.7 381.18 L244.1 379.76 L244.5 378.32 L244.9 376.86 L245.3 375.38 L245.7 373.89 L246.1 372.38 L246.5 370.85 L246.9 369.3 L247.3 367.73 L247.7 366.15 L248.1 364.54 L248.5 362.92 L248.6 362.51" fill="none" stroke="#6a9a2c" stroke-width="1.9" stroke-linejoin="round" stroke-linecap="butt"/>
<path d="M254 338.62 L254.4 336.7 L254.8 334.75 L255.2 332.79 L255.6 330.8 L256 328.79 L256.4 326.76 L256.8 324.7 L257.2 322.62 L257.6 320.51 L258 318.39 L258.4 316.23 L258.5 315.69" fill="none" stroke="#6a9a2c" stroke-width="1.9" stroke-linejoin="round" stroke-linecap="butt"/>
<path d="M194.5 456.35 L194.9 456.2 L195.3 456.05 L195.7 455.9 L196.1 455.74 L196.5 455.58 L196.9 455.42 L197.3 455.26 L197.7 455.09 L198.1 454.91 L198.5 454.74 L198.9 454.56 L199.3 454.37 L199.7 454.19 L200.1 454 L200.5 453.8 L200.9 453.6 L201.3 453.4 L201.7 453.19 L202.1 452.98 L202.5 452.77 L202.9 452.55 L203.3 452.32 L203.7 452.1 L204.1 451.87 L204.5 451.63 L204.9 451.39 L205.3 451.14 L205.7 450.89 L206.1 450.64 L206.5 450.38 L206.9 450.12 L207.3 449.85 L207.7 449.57 L208.1 449.29 L208.5 449.01 L208.9 448.72 L209.3 448.43 L209.7 448.13 L210.1 447.82 L210.5 447.51 L210.9 447.2 L211.3 446.88 L211.7 446.55 L212.1 446.22 L212.3 446.06" fill="none" stroke="#e6d431" stroke-width="1.9" stroke-linejoin="round" stroke-linecap="butt"/>
<path d="M229.3 426.3 L229.7 425.7 L230.1 425.09 L230.5 424.47 L230.9 423.84 L231.3 423.21 L231.7 422.58 L232.1 421.93 L232.5 421.28 L232.9 420.62 L233.3 419.96 L233.7 419.28 L234.1 418.61 L234.5 417.92 L234.9 417.23 L235.3 416.53 L235.7 415.82 L236.1 415.11 L236.5 414.39 L236.9 413.66 L237.3 412.92 L237.7 412.18 L238.1 411.43 L238.5 410.68 L238.9 409.91 L239.3 409.14 L239.7 408.37 L239.9 407.97" fill="none" stroke="#e6d431" stroke-width="1.9" stroke-linejoin="round" stroke-linecap="butt"/>
<path d="M250 385.7 L250.4 384.71 L250.8 383.72 L251.2 382.71 L251.6 381.7 L252 380.67 L252.4 379.64 L252.8 378.6 L253.2 377.55 L253.6 376.49 L254 375.42 L254.4 374.34 L254.8 373.26 L255.2 372.16 L255.6 371.05 L256 369.94 L256.4 368.81 L256.8 367.68 L257.2 366.53 L257.6 365.38 L257.7 365.09" fill="none" stroke="#e6d431" stroke-width="1.9" stroke-linejoin="round" stroke-linecap="butt"/>
<path d="M265.1 341.77 L265.5 340.4 L265.9 339.02 L266.3 337.63 L266.7 336.22 L267.1 334.8 L267.5 333.37 L267.9 331.93 L268.3 330.48 L268.7 329.01 L269.1 327.53 L269.5 326.03 L269.9 324.53 L270.3 323.01 L270.7 321.47 L270.9 320.7" fill="none" stroke="#e6d431" stroke-width="1.9" stroke-linejoin="round" stroke-linecap="butt"/>
<path d="M50 464.51 L50.4 464.51 L50.8 464.51 L51.2 464.51 L51.6 464.51 L52 464.5 L52.4 464.5 L52.8 464.5 L53.2 464.5 L53.6 464.5 L54 464.5 L54.4 464.5 L54.8 464.5 L55.2 464.5 L55.6 464.5 L56 464.5 L56.4 464.5 L56.8 464.5 L57.2 464.5 L57.6 464.5 L58 464.49 L58.4 464.49 L58.8 464.49 L59.2 464.49 L59.6 464.49 L60 464.49 L60.4 464.49 L60.8 464.49 L61.2 464.49 L61.6 464.49 L62 464.49 L62.4 464.49 L62.8 464.49 L63.2 464.48 L63.6 464.48 L64 464.48 L64.4 464.48 L64.8 464.48 L65.2 464.48 L65.6 464.48 L66 464.48 L66.4 464.48 L66.8 464.48 L67.2 464.48 L67.6 464.48 L68 464.47 L68.4 464.47 L68.8 464.47 L69.2 464.47 L69.6 464.47 L70 464.47 L70.4 464.47 L70.8 464.47 L71.2 464.47 L71.6 464.47 L72 464.46 L72.4 464.46 L72.8 464.46 L73.2 464.46 L73.6 464.46 L74 464.46 L74.4 464.46 L74.8 464.46 L75.2 464.46 L75.6 464.46 L76 464.45 L76.4 464.45 L76.8 464.45 L77.2 464.45 L77.6 464.45 L78 464.45 L78.4 464.45 L78.8 464.45 L79.2 464.44 L79.6 464.44 L80 464.44 L80.4 464.44 L80.8 464.44 L81.2 464.44 L81.6 464.44 L82 464.44 L82.4 464.43 L82.8 464.43 L83.2 464.43 L83.6 464.43 L84 464.43 L84.4 464.43 L84.8 464.43 L85.2 464.43 L85.6 464.42 L86 464.42 L86.4 464.42 L86.8 464.42 L87.2 464.42 L87.6 464.42 L88 464.42 L88.4 464.41 L88.8 464.41 L89.2 464.41 L89.6 464.41 L90 464.41 L90.4 464.41 L90.8 464.4 L91.2 464.4 L91.6 464.4 L92 464.4 L92.4 464.4 L92.8 464.4 L93.2 464.39 L93.6 464.39 L94 464.39 L94.4 464.39 L94.8 464.39 L95.2 464.39 L95.6 464.38 L96 464.38 L96.4 464.38 L96.8 464.38 L97.2 464.38 L97.6 464.37 L98 464.37 L98.4 464.37 L98.8 464.37 L99.2 464.37 L99.6 464.36 L100 464.36 L100.4 464.36 L100.8 464.36 L101.2 464.36 L101.6 464.35 L102 464.35 L102.4 464.35 L102.8 464.35 L103.2 464.34 L103.6 464.34 L104 464.34 L104.4 464.34 L104.8 464.34 L105.2 464.33 L105.6 464.33 L106 464.33 L106.4 464.33 L106.8 464.32 L107.2 464.32 L107.6 464.32 L108 464.32 L108.4 464.31 L108.8 464.31 L109.2 464.31 L109.6 464.3 L110 464.3 L110.4 464.3 L110.8 464.3 L111.2 464.29 L111.6 464.29 L112 464.29 L112.4 464.28 L112.8 464.28 L113.2 464.28 L113.6 464.28 L114 464.27 L114.4 464.27 L114.8 464.27 L115.2 464.26 L115.6 464.26 L116 464.26 L116.4 464.25 L116.8 464.25 L117.2 464.25 L117.6 464.24 L118 464.24 L118.4 464.24 L118.8 464.23 L119.2 464.23 L119.6 464.23 L120 464.22 L120.4 464.22 L120.8 464.21 L121.2 464.21 L121.6 464.21 L122 464.2 L122.4 464.2 L122.8 464.19 L123.2 464.19 L123.6 464.19 L124 464.18 L124.4 464.18 L124.8 464.17 L125.2 464.17 L125.6 464.17 L126 464.16 L126.4 464.16 L126.8 464.15 L127.2 464.15 L127.6 464.14 L128 464.14 L128.4 464.13 L128.8 464.13 L129.2 464.12 L129.6 464.12 L130 464.11 L130.4 464.11 L130.8 464.1 L131.2 464.1 L131.6 464.09 L132 464.09 L132.4 464.08 L132.8 464.08 L133.2 464.07 L133.6 464.06 L134 464.06 L134.4 464.05 L134.8 464.05 L135.2 464.04 L135.6 464.03 L136 464.03 L136.4 464.02 L136.8 464.01 L137.2 464.01 L137.6 464 L138 463.99 L138.4 463.99 L138.8 463.98 L139.2 463.97 L139.6 463.97 L140 463.96 L140.4 463.95 L140.8 463.95 L141.2 463.94 L141.6 463.93 L142 463.92 L142.4 463.91 L142.8 463.91 L143.2 463.9 L143.6 463.89 L144 463.88 L144.4 463.87 L144.8 463.86 L145.2 463.86 L145.6 463.85 L146 463.84 L146.4 463.83 L146.8 463.82 L147.2 463.81 L147.6 463.8 L148 463.79 L148.4 463.78 L148.8 463.77 L149.2 463.76 L149.6 463.75 L150 463.74 L150.4 463.73 L150.8 463.72 L151.2 463.71 L151.6 463.7 L152 463.69 L152.4 463.67 L152.8 463.66 L153.2 463.65 L153.6 463.64 L154 463.63 L154.4 463.61 L154.8 463.6 L155.2 463.59 L155.6 463.58 L156 463.56 L156.4 463.55 L156.8 463.53 L157.2 463.52 L157.6 463.51 L158 463.49 L158.4 463.48 L158.8 463.46 L159.2 463.45 L159.6 463.43 L160 463.42 L160.4 463.4 L160.8 463.38 L161.2 463.37 L161.6 463.35 L162 463.33 L162.4 463.32 L162.8 463.3 L163.2 463.28 L163.6 463.26 L164 463.24 L164.4 463.22 L164.8 463.2 L165.2 463.18 L165.6 463.16 L166 463.14 L166.4 463.12 L166.8 463.1 L167.2 463.08 L167.6 463.06 L168 463.04 L168.4 463.01 L168.8 462.99 L169.2 462.97 L169.6 462.94 L170 462.92 L170.4 462.89 L170.8 462.87 L171.2 462.84 L171.6 462.82 L172 462.79 L172.4 462.76 L172.8 462.73 L173.2 462.71 L173.6 462.68 L174 462.65 L174.4 462.62 L174.8 462.59 L175.2 462.56 L175.6 462.52 L176 462.49 L176.4 462.46 L176.8 462.42 L177.2 462.39 L177.6 462.36 L178 462.32 L178.4 462.28 L178.8 462.25 L179.2 462.21 L179.6 462.17 L180 462.13 L180.4 462.09 L180.8 462.05 L181.2 462.01 L181.6 461.97 L182 461.92 L182.4 461.88 L182.8 461.83 L183.2 461.79 L183.6 461.74 L184 461.69 L184.4 461.64 L184.8 461.59 L185.2 461.54 L185.6 461.49 L186 461.44 L186.4 461.38 L186.8 461.33 L187.2 461.27 L187.6 461.22 L188 461.16 L188.4 461.1 L188.8 461.04 L189.2 460.98 L189.6 460.91 L190 460.85 L190.4 460.78 L190.8 460.71 L191.2 460.65 L191.6 460.58 L192 460.5 L192.4 460.43 L192.8 460.36 L193.2 460.28 L193.6 460.2 L194 460.12 L194.4 460.04 L194.8 459.96 L195.2 459.88 L195.6 459.79 L196 459.7 L196.4 459.62 L196.8 459.52 L197.2 459.43 L197.6 459.34 L198 459.24 L198.4 459.14 L198.8 459.04 L199.2 458.94 L199.6 458.84 L200 458.73 L200.4 458.62 L200.8 458.51 L201.2 458.4 L201.6 458.28 L202 458.16 L202.4 458.05 L202.8 457.92 L203.2 457.8 L203.6 457.67 L204 457.54 L204.4 457.41 L204.8 457.28 L205.2 457.14 L205.6 457 L206 456.86 L206.4 456.72 L206.8 456.57 L207.2 456.42 L207.6 456.27 L208 456.12 L208.4 455.96 L208.8 455.8 L209.2 455.63 L209.6 455.47 L210 455.3 L210.4 455.13 L210.8 454.95 L211.2 454.77 L211.6 454.59 L212 454.41 L212.4 454.22 L212.8 454.03 L213.2 453.84 L213.6 453.64 L214 453.44 L214.4 453.24 L214.8 453.03 L215.2 452.82 L215.6 452.61 L216 452.39 L216.4 452.17 L216.8 451.95 L217.2 451.72 L217.6 451.49 L218 451.26 L218.4 451.02 L218.8 450.78 L219.2 450.53 L219.6 450.29 L220 450.04 L220.4 449.78 L220.8 449.52 L221.2 449.26 L221.6 448.99 L222 448.73 L222.4 448.45 L222.8 448.18 L223.2 447.9 L223.6 447.61 L224 447.32 L224.4 447.03 L224.8 446.74 L225.2 446.44 L225.6 446.14 L226 445.83 L226.4 445.52 L226.8 445.21 L227.2 444.89 L227.6 444.57 L228 444.25 L228.4 443.92 L228.8 443.58 L229.2 443.25 L229.6 442.91 L230 442.57 L230.4 442.22 L230.8 441.87 L231.2 441.51 L231.6 441.15 L232 440.79 L232.4 440.42 L232.8 440.05 L233.2 439.68 L233.6 439.3 L234 438.92 L234.4 438.54 L234.8 438.15 L235.2 437.75 L235.6 437.36 L236 436.96 L236.4 436.55 L236.8 436.14 L237.2 435.73 L237.6 435.31 L238 434.89 L238.4 434.47 L238.8 434.04 L239.2 433.61 L239.6 433.18 L240 432.74 L240.4 432.29 L240.8 431.85 L241.2 431.39 L241.6 430.94 L242 430.48 L242.4 430.02 L242.8 429.55 L243.2 429.08 L243.6 428.6 L244 428.12 L244.4 427.64 L244.8 427.15 L245.2 426.66 L245.6 426.17 L246 425.67 L246.4 425.16 L246.8 424.66 L247.2 424.15 L247.6 423.63 L248 423.11 L248.4 422.58 L248.8 422.06 L249.2 421.52 L249.6 420.99 L250 420.44 L250.4 419.9 L250.8 419.35 L251.2 418.8 L251.6 418.24 L252 417.67 L252.4 417.11 L252.8 416.53 L253.2 415.96 L253.6 415.38 L254 414.79 L254.4 414.2 L254.8 413.61 L255.2 413.01 L255.6 412.41 L256 411.8 L256.4 411.18 L256.8 410.57 L257.2 409.95 L257.6 409.32 L258 408.69 L258.4 408.05 L258.8 407.41 L259.2 406.76 L259.6 406.11 L260 405.46 L260.4 404.79 L260.8 404.13 L261.2 403.46 L261.6 402.78 L262 402.1 L262.4 401.41 L262.8 400.72 L263.2 400.03 L263.6 399.32 L264 398.62 L264.4 397.9 L264.8 397.19 L265.2 396.46 L265.6 395.74 L266 395 L266.4 394.26 L266.8 393.52 L267.2 392.77 L267.6 392.01 L268 391.25 L268.4 390.48 L268.8 389.71 L269.2 388.93 L269.6 388.15 L270 387.36 L270.4 386.56 L270.8 385.76 L271.2 384.95 L271.6 384.14 L272 383.32 L272.4 382.49 L272.8 381.66 L273.2 380.82 L273.6 379.98 L274 379.13 L274.4 378.27 L274.8 377.41 L275.2 376.54 L275.6 375.66 L276 374.78 L276.4 373.89 L276.8 373 L277.2 372.1 L277.6 371.19 L278 370.28 L278.4 369.35 L278.8 368.43 L279.2 367.49 L279.6 366.55 L280 365.6 L280.4 364.65 L280.8 363.69 L281.2 362.72 L281.6 361.74 L282 360.76 L282.4 359.77 L282.8 358.77 L283.2 357.76 L283.6 356.75 L284 355.73 L284.4 354.71 L284.8 353.67 L285.2 352.63 L285.6 351.58 L286 350.53 L286.4 349.46 L286.8 348.39 L287.2 347.31 L287.6 346.23 L288 345.13 L288.4 344.03 L288.8 342.92 L289.2 341.8 L289.6 340.67 L290 339.54 L290.4 338.4 L290.8 337.25 L291.2 336.09 L291.6 334.92 L292 333.75 L292.4 332.56 L292.8 331.37 L293.2 330.17 L293.6 328.96 L294 327.75 L294.4 326.52 L294.8 325.29 L295.2 324.04 L295.6 322.79 L296 321.53 L296.4 320.26 L296.8 318.98 L297.2 317.7 L297.6 316.4 L298 315.1 L298.4 313.78 L298.8 312.46 L299.2 311.13 L299.6 309.79 L300 308.43 L300.4 307.07 L300.8 305.7 L301.2 304.33 L301.6 302.94 L302 301.54 L302.4 300.13 L302.8 298.71 L303.2 297.29 L303.6 295.85 L304 294.4 L304.4 292.95 L304.8 291.48 L305.2 290 L305.6 288.52 L306 287.02 L306.4 285.51 L306.8 284 L307.2 282.47 L307.6 280.93 L308 279.38 L308.4 277.83 L308.8 276.26 L309.2 274.68 L309.6 273.09 L310 271.49 L310.4 269.88 L310.8 268.26 L311.2 266.62 L311.6 264.98 L312 263.33 L312.4 261.66 L312.8 259.98 L313.2 258.3 L313.6 256.6 L314 254.89 L314.4 253.17 L314.8 251.44 L315.2 249.69 L315.6 247.94 L316 246.17 L316.4 244.39 L316.8 242.61 L317.2 240.8 L317.6 238.99 L318 237.17 L318 237.17" fill="none" stroke="#d35c1c" stroke-width="1.9" stroke-linejoin="round" stroke-linecap="butt"/>
<path d="M55 465 L77.6 465" fill="none" stroke="#7f2c92" stroke-width="2.3" stroke-linejoin="round" stroke-linecap="butt"/>
<path d="M101.3 465 L124 465" fill="none" stroke="#7f2c92" stroke-width="2.3" stroke-linejoin="round" stroke-linecap="butt"/>
<path d="M148 465 L170.6 465" fill="none" stroke="#7f2c92" stroke-width="2.3" stroke-linejoin="round" stroke-linecap="butt"/>
<path d="M194.8 465 L217.5 465" fill="none" stroke="#7f2c92" stroke-width="2.3" stroke-linejoin="round" stroke-linecap="butt"/>
<path d="M241.2 465 L263.9 465" fill="none" stroke="#7f2c92" stroke-width="2.3" stroke-linejoin="round" stroke-linecap="butt"/>
<path d="M287.3 465 L310.4 465" fill="none" stroke="#7f2c92" stroke-width="2.3" stroke-linejoin="round" stroke-linecap="butt"/>
</g>
<rect x="55.3" y="304.6" width="262.4" height="182.3" fill="none" stroke="#2e2e2e" stroke-width="1.5"/>
<line x1="55.3" y1="465.2" x2="58.5" y2="465.2" stroke="#2e2e2e" stroke-width="1.5"/>
<line x1="317.7" y1="465.2" x2="314.5" y2="465.2" stroke="#2e2e2e" stroke-width="1.5"/>
<text x="49" y="469.5" font-size="12" text-anchor="end" fill="#1a1a1a">0</text>
<line x1="55.3" y1="428.8" x2="58.5" y2="428.8" stroke="#2e2e2e" stroke-width="1.5"/>
<line x1="317.7" y1="428.8" x2="314.5" y2="428.8" stroke="#2e2e2e" stroke-width="1.5"/>
<text x="49" y="433.1" font-size="12" text-anchor="end" fill="#1a1a1a">50</text>
<line x1="55.3" y1="392.4" x2="58.5" y2="392.4" stroke="#2e2e2e" stroke-width="1.5"/>
<line x1="317.7" y1="392.4" x2="314.5" y2="392.4" stroke="#2e2e2e" stroke-width="1.5"/>
<text x="49" y="396.7" font-size="12" text-anchor="end" fill="#1a1a1a">100</text>
<line x1="55.3" y1="356" x2="58.5" y2="356" stroke="#2e2e2e" stroke-width="1.5"/>
<line x1="317.7" y1="356" x2="314.5" y2="356" stroke="#2e2e2e" stroke-width="1.5"/>
<text x="49" y="360.3" font-size="12" text-anchor="end" fill="#1a1a1a">150</text>
<line x1="55.3" y1="319.6" x2="58.5" y2="319.6" stroke="#2e2e2e" stroke-width="1.5"/>
<line x1="317.7" y1="319.6" x2="314.5" y2="319.6" stroke="#2e2e2e" stroke-width="1.5"/>
<text x="49" y="323.9" font-size="12" text-anchor="end" fill="#1a1a1a">200</text>
<line x1="60.84" y1="304.6" x2="60.84" y2="306.6" stroke="#2e2e2e" stroke-width="1.5"/>
<line x1="60.84" y1="486.9" x2="60.84" y2="484.9" stroke="#2e2e2e" stroke-width="1.5"/>
<line x1="66.2" y1="304.6" x2="66.2" y2="307.8" stroke="#2e2e2e" stroke-width="1.5"/>
<line x1="66.2" y1="486.9" x2="66.2" y2="483.7" stroke="#2e2e2e" stroke-width="1.5"/>
<line x1="101.48" y1="304.6" x2="101.48" y2="306.6" stroke="#2e2e2e" stroke-width="1.5"/>
<line x1="101.48" y1="486.9" x2="101.48" y2="484.9" stroke="#2e2e2e" stroke-width="1.5"/>
<line x1="122.12" y1="304.6" x2="122.12" y2="306.6" stroke="#2e2e2e" stroke-width="1.5"/>
<line x1="122.12" y1="486.9" x2="122.12" y2="484.9" stroke="#2e2e2e" stroke-width="1.5"/>
<line x1="136.76" y1="304.6" x2="136.76" y2="306.6" stroke="#2e2e2e" stroke-width="1.5"/>
<line x1="136.76" y1="486.9" x2="136.76" y2="484.9" stroke="#2e2e2e" stroke-width="1.5"/>
<line x1="148.12" y1="304.6" x2="148.12" y2="306.6" stroke="#2e2e2e" stroke-width="1.5"/>
<line x1="148.12" y1="486.9" x2="148.12" y2="484.9" stroke="#2e2e2e" stroke-width="1.5"/>
<line x1="157.4" y1="304.6" x2="157.4" y2="306.6" stroke="#2e2e2e" stroke-width="1.5"/>
<line x1="157.4" y1="486.9" x2="157.4" y2="484.9" stroke="#2e2e2e" stroke-width="1.5"/>
<line x1="165.25" y1="304.6" x2="165.25" y2="306.6" stroke="#2e2e2e" stroke-width="1.5"/>
<line x1="165.25" y1="486.9" x2="165.25" y2="484.9" stroke="#2e2e2e" stroke-width="1.5"/>
<line x1="172.04" y1="304.6" x2="172.04" y2="306.6" stroke="#2e2e2e" stroke-width="1.5"/>
<line x1="172.04" y1="486.9" x2="172.04" y2="484.9" stroke="#2e2e2e" stroke-width="1.5"/>
<line x1="178.04" y1="304.6" x2="178.04" y2="306.6" stroke="#2e2e2e" stroke-width="1.5"/>
<line x1="178.04" y1="486.9" x2="178.04" y2="484.9" stroke="#2e2e2e" stroke-width="1.5"/>
<line x1="183.4" y1="304.6" x2="183.4" y2="307.8" stroke="#2e2e2e" stroke-width="1.5"/>
<line x1="183.4" y1="486.9" x2="183.4" y2="483.7" stroke="#2e2e2e" stroke-width="1.5"/>
<line x1="218.68" y1="304.6" x2="218.68" y2="306.6" stroke="#2e2e2e" stroke-width="1.5"/>
<line x1="218.68" y1="486.9" x2="218.68" y2="484.9" stroke="#2e2e2e" stroke-width="1.5"/>
<line x1="239.32" y1="304.6" x2="239.32" y2="306.6" stroke="#2e2e2e" stroke-width="1.5"/>
<line x1="239.32" y1="486.9" x2="239.32" y2="484.9" stroke="#2e2e2e" stroke-width="1.5"/>
<line x1="253.96" y1="304.6" x2="253.96" y2="306.6" stroke="#2e2e2e" stroke-width="1.5"/>
<line x1="253.96" y1="486.9" x2="253.96" y2="484.9" stroke="#2e2e2e" stroke-width="1.5"/>
<line x1="265.32" y1="304.6" x2="265.32" y2="306.6" stroke="#2e2e2e" stroke-width="1.5"/>
<line x1="265.32" y1="486.9" x2="265.32" y2="484.9" stroke="#2e2e2e" stroke-width="1.5"/>
<line x1="274.6" y1="304.6" x2="274.6" y2="306.6" stroke="#2e2e2e" stroke-width="1.5"/>
<line x1="274.6" y1="486.9" x2="274.6" y2="484.9" stroke="#2e2e2e" stroke-width="1.5"/>
<line x1="282.45" y1="304.6" x2="282.45" y2="306.6" stroke="#2e2e2e" stroke-width="1.5"/>
<line x1="282.45" y1="486.9" x2="282.45" y2="484.9" stroke="#2e2e2e" stroke-width="1.5"/>
<line x1="289.24" y1="304.6" x2="289.24" y2="306.6" stroke="#2e2e2e" stroke-width="1.5"/>
<line x1="289.24" y1="486.9" x2="289.24" y2="484.9" stroke="#2e2e2e" stroke-width="1.5"/>
<line x1="295.24" y1="304.6" x2="295.24" y2="306.6" stroke="#2e2e2e" stroke-width="1.5"/>
<line x1="295.24" y1="486.9" x2="295.24" y2="484.9" stroke="#2e2e2e" stroke-width="1.5"/>
<line x1="300.6" y1="304.6" x2="300.6" y2="307.8" stroke="#2e2e2e" stroke-width="1.5"/>
<line x1="300.6" y1="486.9" x2="300.6" y2="483.7" stroke="#2e2e2e" stroke-width="1.5"/>
<text x="66.6" y="505.0" font-size="12" text-anchor="middle" fill="#1a1a1a">10<tspan font-size="9.5" dy="-4.7">−1</tspan></text>
<text x="183.8" y="505.0" font-size="12" text-anchor="middle" fill="#1a1a1a">10<tspan font-size="9.5" dy="-4.7">0</tspan></text>
<text x="301" y="505.0" font-size="12" text-anchor="middle" fill="#1a1a1a">10<tspan font-size="9.5" dy="-4.7">1</tspan></text>
<text x="182.3" y="524.6" font-size="12.6" text-anchor="middle" fill="#1a1a1a">Pump power (μW)</text>
<text x="0" y="0" font-size="12.6" text-anchor="middle" fill="#1a1a1a" transform="translate(11 396.7) rotate(-90)">Output intensity (a.u.)</text>
<text x="0.1" y="300.6" font-size="21" font-weight="bold" fill="#111">d</text>
<text x="72.5" y="338.8" font-size="12" fill="#6a3a9a"><tspan font-family="Liberation Serif" font-style="italic" font-size="13">β</tspan> = 1</text>
<text x="95" y="352.5" font-size="12" text-anchor="start" fill="#2f78bd">0.9</text>
<text x="95" y="366.2" font-size="12" text-anchor="start" fill="#b5552a">0.81</text>
<text x="95" y="380" font-size="12" text-anchor="start" fill="#f0b43c">0.6</text>
<text x="95" y="393.2" font-size="12" text-anchor="start" fill="#1f9050">0.3</text>
</svg></body></html>
